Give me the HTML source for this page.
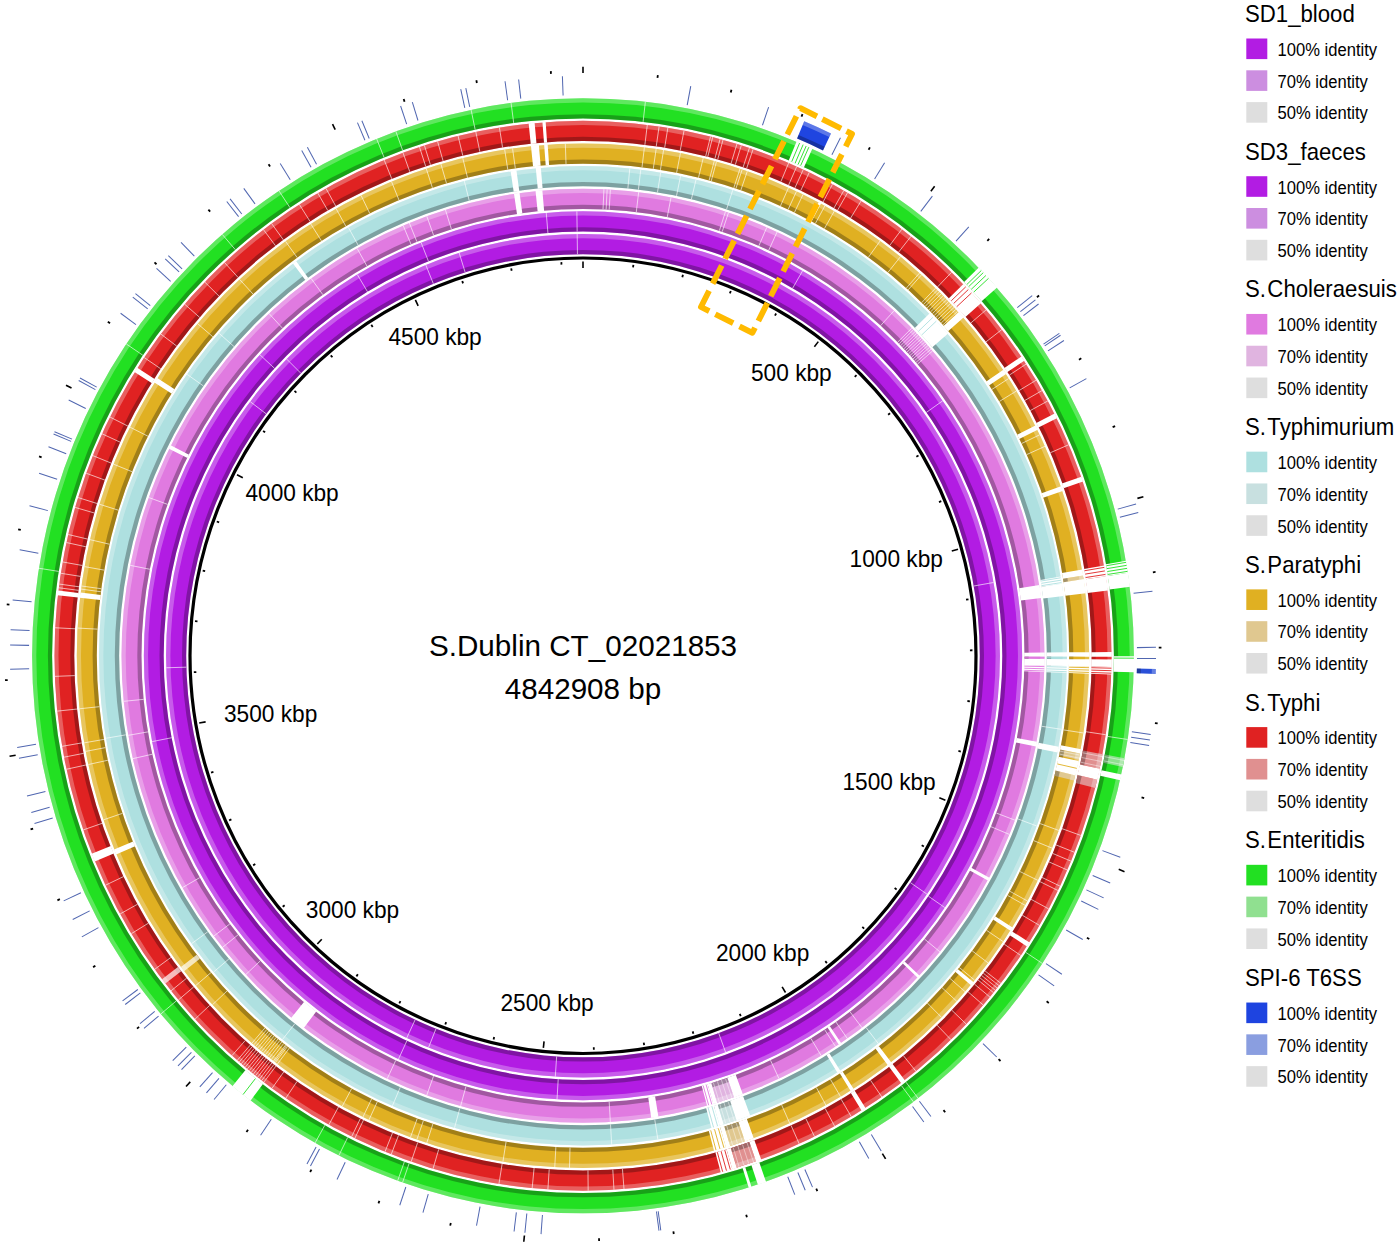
<!DOCTYPE html>
<html><head><meta charset="utf-8"><style>html,body{margin:0;padding:0;background:#fff;}svg{display:block;}text{font-family:"Liberation Sans",sans-serif;}</style></head><body>
<svg width="1400" height="1249" viewBox="0 0 1400 1249">
<rect width="1400" height="1249" fill="#fff"/>
<g transform="translate(583.0,655.75) scale(1,1.0121)">
<path d="M0,-416.8A416.8,416.8 0 1 1 0,416.8A416.8,416.8 0 1 1 0,-416.8ZM0,-396.8A396.8,396.8 0 1 0 0,396.8A396.8,396.8 0 1 0 0,-396.8Z" fill="#b21ce3"/>
<path d="M0,-416.8A416.8,416.8 0 1 1 0,416.8A416.8,416.8 0 1 1 0,-416.8ZM0,-412.6A412.6,412.6 0 1 0 0,412.6A412.6,412.6 0 1 0 0,-412.6Z" fill="#fff" fill-opacity="0.28"/>
<path d="M0,-401A401,401 0 1 1 0,401A401,401 0 1 1 0,-401ZM0,-396.8A396.8,396.8 0 1 0 0,396.8A396.8,396.8 0 1 0 0,-396.8Z" fill="#000" fill-opacity="0.28"/>
<line x1="390.77" y1="-68.9" x2="410.47" y2="-72.38" stroke="#fff" stroke-opacity="0.7" stroke-width="0.9"/>
<line x1="327.41" y1="224.18" x2="343.91" y2="235.48" stroke="#fff" stroke-opacity="0.7" stroke-width="0.9"/>
<line x1="135.71" y1="372.87" x2="142.55" y2="391.66" stroke="#fff" stroke-opacity="0.7" stroke-width="0.9"/>
<line x1="-26.37" y1="395.92" x2="-27.7" y2="415.88" stroke="#fff" stroke-opacity="0.7" stroke-width="0.9"/>
<line x1="-147.04" y1="368.55" x2="-154.45" y2="387.13" stroke="#fff" stroke-opacity="0.7" stroke-width="0.9"/>
<line x1="-167.82" y1="359.56" x2="-176.28" y2="377.69" stroke="#fff" stroke-opacity="0.7" stroke-width="0.9"/>
<line x1="-396.64" y1="11.29" x2="-416.63" y2="11.86" stroke="#fff" stroke-opacity="0.7" stroke-width="0.9"/>
<line x1="-316.77" y1="-238.97" x2="-332.74" y2="-251.01" stroke="#fff" stroke-opacity="0.7" stroke-width="0.9"/>
<line x1="-282.09" y1="-279.06" x2="-296.31" y2="-293.12" stroke="#fff" stroke-opacity="0.7" stroke-width="0.9"/>
<line x1="-149.61" y1="-367.52" x2="-157.15" y2="-386.04" stroke="#fff" stroke-opacity="0.7" stroke-width="0.9"/>
<line x1="-117.87" y1="-378.89" x2="-123.81" y2="-397.99" stroke="#fff" stroke-opacity="0.7" stroke-width="0.9"/>
<line x1="-5.54" y1="-396.76" x2="-5.82" y2="-416.76" stroke="#fff" stroke-opacity="0.7" stroke-width="0.9"/>
<path d="M0,-439.15A439.15,439.15 0 1 1 0,439.15A439.15,439.15 0 1 1 0,-439.15ZM0,-419.15A419.15,419.15 0 1 0 0,419.15A419.15,419.15 0 1 0 0,-419.15Z" fill="#b21ce3"/>
<path d="M0,-439.15A439.15,439.15 0 1 1 0,439.15A439.15,439.15 0 1 1 0,-439.15ZM0,-434.95A434.95,434.95 0 1 0 0,434.95A434.95,434.95 0 1 0 0,-434.95Z" fill="#fff" fill-opacity="0.28"/>
<path d="M0,-423.35A423.35,423.35 0 1 1 0,423.35A423.35,423.35 0 1 1 0,-423.35ZM0,-419.15A419.15,419.15 0 1 0 0,419.15A419.15,419.15 0 1 0 0,-419.15Z" fill="#000" fill-opacity="0.28"/>
<line x1="209.57" y1="-362.99" x2="219.57" y2="-380.32" stroke="#fff" stroke-opacity="0.7" stroke-width="0.9"/>
<line x1="343.35" y1="-240.41" x2="359.73" y2="-251.89" stroke="#fff" stroke-opacity="0.7" stroke-width="0.9"/>
<line x1="345.35" y1="237.53" x2="361.83" y2="248.86" stroke="#fff" stroke-opacity="0.7" stroke-width="0.9"/>
<line x1="-24.79" y1="418.42" x2="-25.97" y2="438.38" stroke="#fff" stroke-opacity="0.7" stroke-width="0.9"/>
<line x1="-176.08" y1="380.37" x2="-184.48" y2="398.52" stroke="#fff" stroke-opacity="0.7" stroke-width="0.9"/>
<line x1="-411.25" y1="80.98" x2="-430.88" y2="84.85" stroke="#fff" stroke-opacity="0.7" stroke-width="0.9"/>
<line x1="-308.39" y1="-283.87" x2="-323.1" y2="-297.42" stroke="#fff" stroke-opacity="0.7" stroke-width="0.9"/>
<line x1="-215.44" y1="-359.55" x2="-225.72" y2="-376.7" stroke="#fff" stroke-opacity="0.7" stroke-width="0.9"/>
<line x1="-154.5" y1="-389.63" x2="-161.88" y2="-408.23" stroke="#fff" stroke-opacity="0.7" stroke-width="0.9"/>
<line x1="-35.07" y1="-417.68" x2="-36.75" y2="-437.61" stroke="#fff" stroke-opacity="0.7" stroke-width="0.9"/>
<line x1="-5.85" y1="-419.11" x2="-6.13" y2="-439.11" stroke="#fff" stroke-opacity="0.7" stroke-width="0.9"/>
<path d="M0,-461.5A461.5,461.5 0 1 1 0,461.5A461.5,461.5 0 1 1 0,-461.5ZM0,-441.5A441.5,441.5 0 1 0 0,441.5A441.5,441.5 0 1 0 0,-441.5Z" fill="#e07ae0"/>
<path d="M0,-461.5A461.5,461.5 0 1 1 0,461.5A461.5,461.5 0 1 1 0,-461.5ZM0,-457.3A457.3,457.3 0 1 0 0,457.3A457.3,457.3 0 1 0 0,-457.3Z" fill="#fff" fill-opacity="0.28"/>
<path d="M0,-445.7A445.7,445.7 0 1 1 0,445.7A445.7,445.7 0 1 1 0,-445.7ZM0,-441.5A441.5,441.5 0 1 0 0,441.5A441.5,441.5 0 1 0 0,-441.5Z" fill="#000" fill-opacity="0.28"/>
<path d="M151.01,436.09A461.5,461.5 0 0 1 134.16,441.57L128.35,422.43A441.5,441.5 0 0 0 144.47,417.19Z" fill="#e0b4e0"/>
<path d="M151.01,436.09A461.5,461.5 0 0 1 134.16,441.57L132.94,437.55A457.3,457.3 0 0 0 149.64,432.13Z" fill="#fff" fill-opacity="0.28"/>
<path d="M145.84,421.16A445.7,445.7 0 0 1 129.57,426.45L128.35,422.43A441.5,441.5 0 0 0 144.47,417.19Z" fill="#000" fill-opacity="0.28"/>
<line x1="142.46" y1="417.88" x2="148.92" y2="436.81" stroke="#fff" stroke-opacity="0.55" stroke-width="0.8"/>
<line x1="138.44" y1="419.23" x2="144.72" y2="438.22" stroke="#fff" stroke-opacity="0.55" stroke-width="0.8"/>
<line x1="134.41" y1="420.54" x2="140.5" y2="439.59" stroke="#fff" stroke-opacity="0.55" stroke-width="0.8"/>
<line x1="130.37" y1="421.81" x2="136.28" y2="440.92" stroke="#fff" stroke-opacity="0.55" stroke-width="0.8"/>
<line x1="314.61" y1="-309.75" x2="328.86" y2="-323.78" stroke="#fff" stroke-opacity="0.7" stroke-width="0.9"/>
<line x1="316.19" y1="-308.13" x2="330.51" y2="-322.09" stroke="#fff" stroke-opacity="0.7" stroke-width="0.9"/>
<line x1="317.76" y1="-306.51" x2="332.16" y2="-320.4" stroke="#fff" stroke-opacity="0.7" stroke-width="0.9"/>
<line x1="319.32" y1="-304.89" x2="333.79" y2="-318.7" stroke="#fff" stroke-opacity="0.7" stroke-width="0.9"/>
<line x1="320.88" y1="-303.25" x2="335.41" y2="-316.99" stroke="#fff" stroke-opacity="0.7" stroke-width="0.9"/>
<line x1="322.42" y1="-301.61" x2="337.03" y2="-315.27" stroke="#fff" stroke-opacity="0.7" stroke-width="0.9"/>
<line x1="323.96" y1="-299.95" x2="338.64" y2="-313.54" stroke="#fff" stroke-opacity="0.7" stroke-width="0.9"/>
<line x1="325.49" y1="-298.29" x2="340.23" y2="-311.81" stroke="#fff" stroke-opacity="0.7" stroke-width="0.9"/>
<line x1="327.01" y1="-296.63" x2="341.82" y2="-310.06" stroke="#fff" stroke-opacity="0.7" stroke-width="0.9"/>
<line x1="328.52" y1="-294.95" x2="343.4" y2="-308.31" stroke="#fff" stroke-opacity="0.7" stroke-width="0.9"/>
<line x1="330.02" y1="-293.27" x2="344.98" y2="-306.55" stroke="#fff" stroke-opacity="0.7" stroke-width="0.9"/>
<line x1="331.52" y1="-291.58" x2="346.54" y2="-304.79" stroke="#fff" stroke-opacity="0.7" stroke-width="0.9"/>
<line x1="333.01" y1="-289.88" x2="348.09" y2="-303.01" stroke="#fff" stroke-opacity="0.7" stroke-width="0.9"/>
<line x1="334.48" y1="-288.17" x2="349.64" y2="-301.23" stroke="#fff" stroke-opacity="0.7" stroke-width="0.9"/>
<path d="M456.49,-69.85A461.8,461.8 0 0 1 458.26,-57.08L437.82,-54.53A441.2,441.2 0 0 0 436.12,-66.74Z" fill="#fff"/>
<path d="M461.79,-3.22A461.8,461.8 0 0 1 461.8,0.81L441.2,0.77A441.2,441.2 0 0 0 441.19,-3.08Z" fill="#fff"/>
<path d="M461.79,3.22A461.8,461.8 0 0 1 461.7,9.67L441.1,9.24A441.2,441.2 0 0 0 441.19,3.08Z" fill="#fff"/>
<path d="M461.7,9.67A461.8,461.8 0 0 1 461.52,16.12L440.93,15.4A441.2,441.2 0 0 0 441.1,9.24Z" fill="#fff"/>
<path d="M453.92,84.95A461.8,461.8 0 0 1 453.01,89.7L432.8,85.7A441.2,441.2 0 0 0 433.67,81.16Z" fill="#fff"/>
<path d="M159.84,433.26A461.8,461.8 0 0 1 151.11,436.38L144.37,416.91A441.2,441.2 0 0 0 152.71,413.93Z" fill="#fff"/>
<path d="M134.25,441.86A461.8,461.8 0 0 1 130.39,443.01L124.57,423.25A441.2,441.2 0 0 0 128.26,422.15Z" fill="#fff"/>
<path d="M130.39,443.01A461.8,461.8 0 0 1 124.19,444.79L118.65,424.95A441.2,441.2 0 0 0 124.57,423.25Z" fill="#fff"/>
<path d="M75.42,455.6A461.8,461.8 0 0 1 68.26,456.73L65.21,436.35A441.2,441.2 0 0 0 72.06,435.28Z" fill="#fff"/>
<path d="M-279.2,367.84A461.8,461.8 0 0 1 -291.87,357.87L-278.85,341.91A441.2,441.2 0 0 0 -266.75,351.43Z" fill="#fff"/>
<path d="M-414,-204.61A461.8,461.8 0 0 1 -412.38,-207.86L-393.98,-198.58A441.2,441.2 0 0 0 -395.53,-195.48Z" fill="#fff"/>
<path d="M-69.06,-456.61A461.8,461.8 0 0 1 -63.47,-457.42L-60.64,-437.01A441.2,441.2 0 0 0 -65.97,-436.24Z" fill="#fff"/>
<path d="M-47.47,-459.35A461.8,461.8 0 0 1 -40.65,-460.01L-38.84,-439.49A441.2,441.2 0 0 0 -45.35,-438.86Z" fill="#fff"/>
<path d="M406.41,219.29A461.8,461.8 0 0 1 404.87,222.12L386.81,212.21A441.2,441.2 0 0 0 388.28,209.51Z" fill="#fff"/>
<path d="M336.64,316.12A461.8,461.8 0 0 1 334.7,318.17L319.77,303.98A441.2,441.2 0 0 0 321.62,302.02Z" fill="#fff"/>
<path d="M258.24,382.85A461.8,461.8 0 0 1 255.89,384.42L244.48,367.27A441.2,441.2 0 0 0 246.72,365.77Z" fill="#fff"/>
<line x1="20.03" y1="-441.05" x2="20.94" y2="-461.02" stroke="#fff" stroke-opacity="0.7" stroke-width="0.9"/>
<line x1="23.11" y1="-440.89" x2="24.15" y2="-460.87" stroke="#fff" stroke-opacity="0.7" stroke-width="0.9"/>
<line x1="26.18" y1="-440.72" x2="27.37" y2="-460.69" stroke="#fff" stroke-opacity="0.7" stroke-width="0.9"/>
<line x1="53.27" y1="-438.27" x2="55.68" y2="-458.13" stroke="#fff" stroke-opacity="0.7" stroke-width="0.9"/>
<line x1="84.24" y1="-433.39" x2="88.06" y2="-453.02" stroke="#fff" stroke-opacity="0.7" stroke-width="0.9"/>
<line x1="136.36" y1="-419.92" x2="142.53" y2="-438.94" stroke="#fff" stroke-opacity="0.7" stroke-width="0.9"/>
<line x1="139.21" y1="-418.98" x2="145.52" y2="-437.96" stroke="#fff" stroke-opacity="0.7" stroke-width="0.9"/>
<line x1="175.84" y1="-404.97" x2="183.8" y2="-423.32" stroke="#fff" stroke-opacity="0.7" stroke-width="0.9"/>
<line x1="185.68" y1="-400.56" x2="194.09" y2="-418.7" stroke="#fff" stroke-opacity="0.7" stroke-width="0.9"/>
<line x1="297.59" y1="-326.13" x2="311.07" y2="-340.91" stroke="#fff" stroke-opacity="0.7" stroke-width="0.9"/>
<line x1="413.24" y1="155.41" x2="431.96" y2="162.45" stroke="#fff" stroke-opacity="0.7" stroke-width="0.9"/>
<line x1="407.92" y1="168.88" x2="426.4" y2="176.53" stroke="#fff" stroke-opacity="0.7" stroke-width="0.9"/>
<line x1="388" y1="210.67" x2="405.57" y2="220.21" stroke="#fff" stroke-opacity="0.7" stroke-width="0.9"/>
<line x1="341.46" y1="279.88" x2="356.92" y2="292.55" stroke="#fff" stroke-opacity="0.7" stroke-width="0.9"/>
<line x1="320.78" y1="303.35" x2="335.31" y2="317.09" stroke="#fff" stroke-opacity="0.7" stroke-width="0.9"/>
<line x1="266.93" y1="351.67" x2="279.02" y2="367.6" stroke="#fff" stroke-opacity="0.7" stroke-width="0.9"/>
<line x1="252.92" y1="361.88" x2="264.38" y2="378.27" stroke="#fff" stroke-opacity="0.7" stroke-width="0.9"/>
<line x1="241.68" y1="369.47" x2="252.63" y2="386.21" stroke="#fff" stroke-opacity="0.7" stroke-width="0.9"/>
<line x1="227.92" y1="378.12" x2="238.24" y2="395.25" stroke="#fff" stroke-opacity="0.7" stroke-width="0.9"/>
<line x1="187.49" y1="399.71" x2="195.99" y2="417.82" stroke="#fff" stroke-opacity="0.7" stroke-width="0.9"/>
<line x1="26.18" y1="440.72" x2="27.37" y2="460.69" stroke="#fff" stroke-opacity="0.7" stroke-width="0.9"/>
<line x1="-117.09" y1="425.69" x2="-122.4" y2="444.97" stroke="#fff" stroke-opacity="0.7" stroke-width="0.9"/>
<line x1="-149.48" y1="415.42" x2="-156.25" y2="434.24" stroke="#fff" stroke-opacity="0.7" stroke-width="0.9"/>
<line x1="-187.28" y1="399.81" x2="-195.77" y2="417.92" stroke="#fff" stroke-opacity="0.7" stroke-width="0.9"/>
<line x1="-322.63" y1="301.38" x2="-337.24" y2="315.04" stroke="#fff" stroke-opacity="0.7" stroke-width="0.9"/>
<line x1="-344.85" y1="275.68" x2="-360.47" y2="288.17" stroke="#fff" stroke-opacity="0.7" stroke-width="0.9"/>
<line x1="-353.15" y1="264.96" x2="-369.15" y2="276.97" stroke="#fff" stroke-opacity="0.7" stroke-width="0.9"/>
<line x1="-383.23" y1="219.21" x2="-400.59" y2="229.14" stroke="#fff" stroke-opacity="0.7" stroke-width="0.9"/>
<line x1="-430.65" y1="97.29" x2="-450.16" y2="101.69" stroke="#fff" stroke-opacity="0.7" stroke-width="0.9"/>
<line x1="-435.04" y1="75.22" x2="-454.75" y2="78.63" stroke="#fff" stroke-opacity="0.7" stroke-width="0.9"/>
<line x1="-439.39" y1="43.08" x2="-459.3" y2="45.03" stroke="#fff" stroke-opacity="0.7" stroke-width="0.9"/>
<line x1="-433.15" y1="-85.45" x2="-452.77" y2="-89.32" stroke="#fff" stroke-opacity="0.7" stroke-width="0.9"/>
<line x1="-415.4" y1="-149.55" x2="-434.22" y2="-156.33" stroke="#fff" stroke-opacity="0.7" stroke-width="0.9"/>
<line x1="-300.43" y1="-323.52" x2="-314.03" y2="-338.18" stroke="#fff" stroke-opacity="0.7" stroke-width="0.9"/>
<line x1="-260.13" y1="-356.73" x2="-271.91" y2="-372.89" stroke="#fff" stroke-opacity="0.7" stroke-width="0.9"/>
<line x1="-216.06" y1="-385.02" x2="-225.85" y2="-402.46" stroke="#fff" stroke-opacity="0.7" stroke-width="0.9"/>
<line x1="-172.01" y1="-406.61" x2="-179.8" y2="-425.03" stroke="#fff" stroke-opacity="0.7" stroke-width="0.9"/>
<line x1="-166.1" y1="-409.06" x2="-173.63" y2="-427.59" stroke="#fff" stroke-opacity="0.7" stroke-width="0.9"/>
<line x1="-149.41" y1="-415.45" x2="-156.18" y2="-434.27" stroke="#fff" stroke-opacity="0.7" stroke-width="0.9"/>
<line x1="-131.59" y1="-421.44" x2="-137.55" y2="-440.53" stroke="#fff" stroke-opacity="0.7" stroke-width="0.9"/>
<path d="M0,-483.85A483.85,483.85 0 1 1 0,483.85A483.85,483.85 0 1 1 0,-483.85ZM0,-463.85A463.85,463.85 0 1 0 0,463.85A463.85,463.85 0 1 0 0,-463.85Z" fill="#aee0e0"/>
<path d="M0,-483.85A483.85,483.85 0 1 1 0,483.85A483.85,483.85 0 1 1 0,-483.85ZM0,-479.65A479.65,479.65 0 1 0 0,479.65A479.65,479.65 0 1 0 0,-479.65Z" fill="#fff" fill-opacity="0.28"/>
<path d="M0,-468.05A468.05,468.05 0 1 1 0,468.05A468.05,468.05 0 1 1 0,-468.05ZM0,-463.85A463.85,463.85 0 1 0 0,463.85A463.85,463.85 0 1 0 0,-463.85Z" fill="#000" fill-opacity="0.28"/>
<path d="M153.53,458.85A483.85,483.85 0 0 1 140.66,462.95L134.84,443.82A463.85,463.85 0 0 0 147.18,439.88Z" fill="#c8e0e0"/>
<path d="M153.53,458.85A483.85,483.85 0 0 1 140.66,462.95L139.44,458.94A479.65,479.65 0 0 0 152.2,454.86Z" fill="#fff" fill-opacity="0.28"/>
<path d="M148.51,443.86A468.05,468.05 0 0 1 136.06,447.84L134.84,443.82A463.85,463.85 0 0 0 147.18,439.88Z" fill="#000" fill-opacity="0.28"/>
<line x1="145.13" y1="440.56" x2="151.39" y2="459.56" stroke="#fff" stroke-opacity="0.55" stroke-width="0.8"/>
<line x1="141.03" y1="441.89" x2="147.11" y2="460.95" stroke="#fff" stroke-opacity="0.55" stroke-width="0.8"/>
<line x1="136.91" y1="443.19" x2="142.81" y2="462.29" stroke="#fff" stroke-opacity="0.55" stroke-width="0.8"/>
<path d="M346.5,-338.14A484.15,484.15 0 0 1 364.84,-318.27L349.31,-304.73A463.55,463.55 0 0 0 331.76,-323.75Z" fill="#fff"/>
<path d="M477.79,-78.24A484.15,484.15 0 0 1 478.89,-71.14L458.52,-68.12A463.55,463.55 0 0 0 457.46,-74.91Z" fill="#fff"/>
<path d="M478.89,-71.14A484.15,484.15 0 0 1 480.54,-59L460.09,-56.49A463.55,463.55 0 0 0 458.52,-68.12Z" fill="#fff"/>
<path d="M484.14,-3.38A484.15,484.15 0 0 1 484.15,0.85L463.55,0.81A463.55,463.55 0 0 0 463.54,-3.24Z" fill="#fff"/>
<path d="M484.14,3.38A484.15,484.15 0 0 1 484.04,10.14L463.45,9.71A463.55,463.55 0 0 0 463.54,3.24Z" fill="#fff"/>
<path d="M484.04,10.14A484.15,484.15 0 0 1 483.86,16.9L463.27,16.18A463.55,463.55 0 0 0 463.45,9.71Z" fill="#fff"/>
<path d="M475.73,89.89A484.15,484.15 0 0 1 474.6,95.7L454.4,91.62A463.55,463.55 0 0 0 455.49,86.07Z" fill="#fff"/>
<path d="M257.28,410.13A484.15,484.15 0 0 1 254.41,411.92L243.58,394.39A463.55,463.55 0 0 0 246.33,392.68Z" fill="#fff"/>
<path d="M167.18,454.37A484.15,484.15 0 0 1 153.62,459.13L147.09,439.6A463.55,463.55 0 0 0 160.06,435.04Z" fill="#fff"/>
<path d="M140.74,463.24A484.15,484.15 0 0 1 136.7,464.45L130.88,444.69A463.55,463.55 0 0 0 134.76,443.53Z" fill="#fff"/>
<path d="M136.7,464.45A484.15,484.15 0 0 1 128.57,466.77L123.1,446.91A463.55,463.55 0 0 0 130.88,444.69Z" fill="#fff"/>
<path d="M-290.02,-387.67A484.15,484.15 0 0 1 -286.96,-389.94L-274.75,-373.35A463.55,463.55 0 0 0 -277.68,-371.18Z" fill="#fff"/>
<path d="M-72.4,-478.71A484.15,484.15 0 0 1 -66.54,-479.56L-63.71,-459.15A463.55,463.55 0 0 0 -69.32,-458.34Z" fill="#fff"/>
<path d="M-47.24,-481.84A484.15,484.15 0 0 1 -42.2,-482.31L-40.4,-461.79A463.55,463.55 0 0 0 -45.23,-461.34Z" fill="#fff"/>
<line x1="44.86" y1="-461.68" x2="46.8" y2="-481.58" stroke="#fff" stroke-opacity="0.7" stroke-width="0.9"/>
<line x1="55.4" y1="-460.53" x2="57.79" y2="-480.39" stroke="#fff" stroke-opacity="0.7" stroke-width="0.9"/>
<line x1="74.48" y1="-457.83" x2="77.69" y2="-477.57" stroke="#fff" stroke-opacity="0.7" stroke-width="0.9"/>
<line x1="93.51" y1="-454.33" x2="97.54" y2="-473.92" stroke="#fff" stroke-opacity="0.7" stroke-width="0.9"/>
<line x1="108.36" y1="-451.01" x2="113.03" y2="-470.46" stroke="#fff" stroke-opacity="0.7" stroke-width="0.9"/>
<line x1="143.57" y1="-441.07" x2="149.76" y2="-460.09" stroke="#fff" stroke-opacity="0.7" stroke-width="0.9"/>
<line x1="458.59" y1="69.68" x2="478.36" y2="72.69" stroke="#fff" stroke-opacity="0.7" stroke-width="0.9"/>
<line x1="434.93" y1="161.23" x2="453.68" y2="168.18" stroke="#fff" stroke-opacity="0.7" stroke-width="0.9"/>
<line x1="283.14" y1="367.4" x2="295.35" y2="383.25" stroke="#fff" stroke-opacity="0.7" stroke-width="0.9"/>
<line x1="71.76" y1="458.27" x2="74.86" y2="478.02" stroke="#fff" stroke-opacity="0.7" stroke-width="0.9"/>
<line x1="27.51" y1="463.03" x2="28.7" y2="483" stroke="#fff" stroke-opacity="0.7" stroke-width="0.9"/>
<line x1="-123.18" y1="447.2" x2="-128.49" y2="466.48" stroke="#fff" stroke-opacity="0.7" stroke-width="0.9"/>
<line x1="-182.73" y1="426.34" x2="-190.61" y2="444.72" stroke="#fff" stroke-opacity="0.7" stroke-width="0.9"/>
<line x1="-288.12" y1="363.52" x2="-300.54" y2="379.19" stroke="#fff" stroke-opacity="0.7" stroke-width="0.9"/>
<line x1="-354.13" y1="299.58" x2="-369.4" y2="312.5" stroke="#fff" stroke-opacity="0.7" stroke-width="0.9"/>
<line x1="-375.21" y1="272.71" x2="-391.39" y2="284.47" stroke="#fff" stroke-opacity="0.7" stroke-width="0.9"/>
<line x1="-457.22" y1="78.15" x2="-476.93" y2="81.52" stroke="#fff" stroke-opacity="0.7" stroke-width="0.9"/>
<line x1="-379.59" y1="-266.58" x2="-395.96" y2="-278.08" stroke="#fff" stroke-opacity="0.7" stroke-width="0.9"/>
<line x1="-349.01" y1="-305.53" x2="-364.06" y2="-318.71" stroke="#fff" stroke-opacity="0.7" stroke-width="0.9"/>
<line x1="-224.88" y1="-405.69" x2="-234.58" y2="-423.18" stroke="#fff" stroke-opacity="0.7" stroke-width="0.9"/>
<line x1="-113.79" y1="-449.68" x2="-118.69" y2="-469.07" stroke="#fff" stroke-opacity="0.7" stroke-width="0.9"/>
<path d="M0,-506.2A506.2,506.2 0 1 1 0,506.2A506.2,506.2 0 1 1 0,-506.2ZM0,-486.2A486.2,486.2 0 1 0 0,486.2A486.2,486.2 0 1 0 0,-486.2Z" fill="#e0b022"/>
<path d="M0,-506.2A506.2,506.2 0 1 1 0,506.2A506.2,506.2 0 1 1 0,-506.2ZM0,-502A502,502 0 1 0 0,502A502,502 0 1 0 0,-502Z" fill="#fff" fill-opacity="0.28"/>
<path d="M0,-490.4A490.4,490.4 0 1 1 0,490.4A490.4,490.4 0 1 1 0,-490.4ZM0,-486.2A486.2,486.2 0 1 0 0,486.2A486.2,486.2 0 1 0 0,-486.2Z" fill="#000" fill-opacity="0.28"/>
<path d="M499.97,-79.19A506.2,506.2 0 0 1 500.51,-75.69L480.73,-72.7A486.2,486.2 0 0 0 480.21,-76.06Z" fill="#e0c890"/>
<path d="M499.97,-79.19A506.2,506.2 0 0 1 500.51,-75.69L496.36,-75.07A502,502 0 0 0 495.82,-78.53Z" fill="#fff" fill-opacity="0.28"/>
<path d="M484.36,-76.72A490.4,490.4 0 0 1 484.89,-73.33L480.73,-72.7A486.2,486.2 0 0 0 480.21,-76.06Z" fill="#000" fill-opacity="0.28"/>
<path d="M492.21,118.17A506.2,506.2 0 0 1 490.95,123.32L471.55,118.45A486.2,486.2 0 0 0 472.77,113.5Z" fill="#e0c890"/>
<path d="M492.21,118.17A506.2,506.2 0 0 1 490.95,123.32L486.88,122.29A502,502 0 0 0 488.13,117.19Z" fill="#fff" fill-opacity="0.28"/>
<path d="M476.85,114.48A490.4,490.4 0 0 1 475.63,119.47L471.55,118.45A486.2,486.2 0 0 0 472.77,113.5Z" fill="#000" fill-opacity="0.28"/>
<path d="M496.9,96.59A506.2,506.2 0 0 1 495.68,102.65L476.1,98.6A486.2,486.2 0 0 0 477.27,92.77Z" fill="#e0c890"/>
<path d="M496.9,96.59A506.2,506.2 0 0 1 495.68,102.65L491.57,101.8A502,502 0 0 0 492.78,95.79Z" fill="#fff" fill-opacity="0.28"/>
<path d="M481.39,93.57A490.4,490.4 0 0 1 480.21,99.45L476.1,98.6A486.2,486.2 0 0 0 477.27,92.77Z" fill="#000" fill-opacity="0.28"/>
<line x1="476.98" y1="94.23" x2="496.6" y2="98.1" stroke="#fff" stroke-opacity="0.55" stroke-width="0.8"/>
<line x1="476.4" y1="97.14" x2="495.99" y2="101.14" stroke="#fff" stroke-opacity="0.55" stroke-width="0.8"/>
<path d="M161.88,479.62A506.2,506.2 0 0 1 147.15,484.34L141.34,465.2A486.2,486.2 0 0 0 155.48,460.67Z" fill="#e0c890"/>
<path d="M161.88,479.62A506.2,506.2 0 0 1 147.15,484.34L145.93,480.32A502,502 0 0 0 160.53,475.64Z" fill="#fff" fill-opacity="0.28"/>
<path d="M156.82,464.65A490.4,490.4 0 0 1 142.56,469.22L141.34,465.2A486.2,486.2 0 0 0 155.48,460.67Z" fill="#000" fill-opacity="0.28"/>
<line x1="153.13" y1="461.46" x2="159.43" y2="480.44" stroke="#fff" stroke-opacity="0.55" stroke-width="0.8"/>
<line x1="148.43" y1="462.99" x2="154.53" y2="482.04" stroke="#fff" stroke-opacity="0.55" stroke-width="0.8"/>
<line x1="143.71" y1="464.48" x2="149.62" y2="483.58" stroke="#fff" stroke-opacity="0.55" stroke-width="0.8"/>
<line x1="338.66" y1="-348.86" x2="352.59" y2="-363.21" stroke="#fff" stroke-opacity="0.7" stroke-width="0.9"/>
<line x1="340.48" y1="-347.08" x2="354.49" y2="-361.36" stroke="#fff" stroke-opacity="0.7" stroke-width="0.9"/>
<line x1="342.29" y1="-345.29" x2="356.37" y2="-359.5" stroke="#fff" stroke-opacity="0.7" stroke-width="0.9"/>
<line x1="344.1" y1="-343.5" x2="358.25" y2="-357.62" stroke="#fff" stroke-opacity="0.7" stroke-width="0.9"/>
<line x1="345.89" y1="-341.69" x2="360.12" y2="-355.74" stroke="#fff" stroke-opacity="0.7" stroke-width="0.9"/>
<line x1="347.67" y1="-339.87" x2="361.98" y2="-353.85" stroke="#fff" stroke-opacity="0.7" stroke-width="0.9"/>
<line x1="349.45" y1="-338.05" x2="363.82" y2="-351.95" stroke="#fff" stroke-opacity="0.7" stroke-width="0.9"/>
<line x1="351.21" y1="-336.21" x2="365.66" y2="-350.04" stroke="#fff" stroke-opacity="0.7" stroke-width="0.9"/>
<line x1="352.97" y1="-334.37" x2="367.49" y2="-348.12" stroke="#fff" stroke-opacity="0.7" stroke-width="0.9"/>
<line x1="354.71" y1="-332.52" x2="369.31" y2="-346.2" stroke="#fff" stroke-opacity="0.7" stroke-width="0.9"/>
<line x1="356.45" y1="-330.66" x2="371.11" y2="-344.26" stroke="#fff" stroke-opacity="0.7" stroke-width="0.9"/>
<line x1="358.18" y1="-328.78" x2="372.91" y2="-342.31" stroke="#fff" stroke-opacity="0.7" stroke-width="0.9"/>
<line x1="359.89" y1="-326.9" x2="374.7" y2="-340.35" stroke="#fff" stroke-opacity="0.7" stroke-width="0.9"/>
<line x1="-293.57" y1="387.57" x2="-305.65" y2="403.51" stroke="#fff" stroke-opacity="0.7" stroke-width="0.9"/>
<line x1="-295.5" y1="386.1" x2="-307.65" y2="401.98" stroke="#fff" stroke-opacity="0.7" stroke-width="0.9"/>
<line x1="-297.42" y1="384.62" x2="-309.65" y2="400.44" stroke="#fff" stroke-opacity="0.7" stroke-width="0.9"/>
<line x1="-299.33" y1="383.13" x2="-311.65" y2="398.89" stroke="#fff" stroke-opacity="0.7" stroke-width="0.9"/>
<line x1="-301.24" y1="381.63" x2="-313.63" y2="397.33" stroke="#fff" stroke-opacity="0.7" stroke-width="0.9"/>
<line x1="-303.14" y1="380.13" x2="-315.61" y2="395.76" stroke="#fff" stroke-opacity="0.7" stroke-width="0.9"/>
<line x1="-305.03" y1="378.61" x2="-317.58" y2="394.18" stroke="#fff" stroke-opacity="0.7" stroke-width="0.9"/>
<line x1="-306.92" y1="377.08" x2="-319.54" y2="392.6" stroke="#fff" stroke-opacity="0.7" stroke-width="0.9"/>
<line x1="-308.79" y1="375.55" x2="-321.5" y2="391" stroke="#fff" stroke-opacity="0.7" stroke-width="0.9"/>
<line x1="-310.66" y1="374" x2="-323.44" y2="389.39" stroke="#fff" stroke-opacity="0.7" stroke-width="0.9"/>
<line x1="-312.52" y1="372.45" x2="-325.38" y2="387.77" stroke="#fff" stroke-opacity="0.7" stroke-width="0.9"/>
<line x1="-314.38" y1="370.89" x2="-327.31" y2="386.14" stroke="#fff" stroke-opacity="0.7" stroke-width="0.9"/>
<line x1="-316.22" y1="369.32" x2="-329.23" y2="384.51" stroke="#fff" stroke-opacity="0.7" stroke-width="0.9"/>
<line x1="-318.06" y1="367.73" x2="-331.14" y2="382.86" stroke="#fff" stroke-opacity="0.7" stroke-width="0.9"/>
<line x1="-482.07" y1="-63.25" x2="-501.9" y2="-65.85" stroke="#fff" stroke-opacity="0.7" stroke-width="0.9"/>
<line x1="-481.67" y1="-66.2" x2="-501.49" y2="-68.92" stroke="#fff" stroke-opacity="0.7" stroke-width="0.9"/>
<path d="M-398.89,311.65A506.2,506.2 0 0 1 -402.13,307.45L-386.24,295.31A486.2,486.2 0 0 0 -383.13,299.33Z" fill="#fff" fill-opacity="0.7"/>
<path d="M375.81,-339.57A506.5,506.5 0 0 1 380.52,-334.29L365.04,-320.69A485.9,485.9 0 0 0 360.53,-325.76Z" fill="#fff"/>
<path d="M420.4,-282.5A506.5,506.5 0 0 1 423.09,-278.45L405.89,-267.12A485.9,485.9 0 0 0 403.3,-271.01Z" fill="#fff"/>
<path d="M452.49,-227.58A506.5,506.5 0 0 1 454.66,-223.23L436.16,-214.15A485.9,485.9 0 0 0 434.09,-218.32Z" fill="#fff"/>
<path d="M478.04,-167.41A506.5,506.5 0 0 1 479.62,-162.81L460.11,-156.19A485.9,485.9 0 0 0 458.59,-160.6Z" fill="#fff"/>
<path d="M499.26,-85.34A506.5,506.5 0 0 1 500.26,-79.23L479.92,-76.01A485.9,485.9 0 0 0 478.95,-81.87Z" fill="#fff"/>
<path d="M500.81,-75.74A506.5,506.5 0 0 1 502.72,-61.73L482.28,-59.22A485.9,485.9 0 0 0 480.44,-72.66Z" fill="#fff"/>
<path d="M506.49,-3.54A506.5,506.5 0 0 1 506.5,0.88L485.9,0.85A485.9,485.9 0 0 0 485.89,-3.39Z" fill="#fff"/>
<path d="M506.49,3.54A506.5,506.5 0 0 1 506.39,10.61L485.79,10.18A485.9,485.9 0 0 0 485.89,3.39Z" fill="#fff"/>
<path d="M506.39,10.61A506.5,506.5 0 0 1 506.19,17.68L485.6,16.96A485.9,485.9 0 0 0 485.79,10.18Z" fill="#fff"/>
<path d="M498.02,92.3A506.5,506.5 0 0 1 497.19,96.64L476.97,92.71A485.9,485.9 0 0 0 477.76,88.55Z" fill="#fff"/>
<path d="M495.69,104.1A506.5,506.5 0 0 1 492.51,118.24L472.47,113.43A485.9,485.9 0 0 0 475.53,99.86Z" fill="#fff"/>
<path d="M429.54,268.4A506.5,506.5 0 0 1 427.42,271.77L410.03,260.72A485.9,485.9 0 0 0 412.07,257.49Z" fill="#fff"/>
<path d="M308.34,401.83A506.5,506.5 0 0 1 304.82,404.51L292.42,388.06A485.9,485.9 0 0 0 295.8,385.49Z" fill="#fff"/>
<path d="M270.65,428.13A506.5,506.5 0 0 1 267.65,430L256.77,412.52A485.9,485.9 0 0 0 259.64,410.71Z" fill="#fff"/>
<path d="M170.74,476.85A506.5,506.5 0 0 1 161.97,479.9L155.38,460.39A485.9,485.9 0 0 0 163.79,457.46Z" fill="#fff"/>
<path d="M147.24,484.63A506.5,506.5 0 0 1 143.01,485.89L137.19,466.13A485.9,485.9 0 0 0 141.25,464.92Z" fill="#fff"/>
<path d="M143.01,485.89A506.5,506.5 0 0 1 131.09,489.24L125.76,469.34A485.9,485.9 0 0 0 137.19,466.13Z" fill="#fff"/>
<path d="M-466.92,196.28A506.5,506.5 0 0 1 -468.95,191.38L-449.88,183.59A485.9,485.9 0 0 0 -447.93,188.29Z" fill="#fff"/>
<path d="M-503.24,-57.34A506.5,506.5 0 0 1 -502.62,-62.6L-482.17,-60.06A485.9,485.9 0 0 0 -482.78,-55.01Z" fill="#fff"/>
<path d="M-428.6,-269.9A506.5,506.5 0 0 1 -425.75,-274.38L-408.43,-263.22A485.9,485.9 0 0 0 -411.17,-258.92Z" fill="#fff"/>
<path d="M-52.06,-503.82A506.5,506.5 0 0 1 -44.14,-504.57L-42.35,-484.05A485.9,485.9 0 0 0 -49.95,-483.33Z" fill="#fff"/>
<path d="M-38.86,-505.01A506.5,506.5 0 0 1 -35.33,-505.27L-33.89,-484.72A485.9,485.9 0 0 0 -37.28,-484.47Z" fill="#fff"/>
<path d="M235.83,-448.25A506.5,506.5 0 0 1 238.18,-447.01L228.49,-428.83A485.9,485.9 0 0 0 226.24,-430.02Z" fill="#fff"/>
<path d="M390.55,322.51A506.5,506.5 0 0 1 388,325.57L372.22,312.33A485.9,485.9 0 0 0 374.66,309.4Z" fill="#fff"/>
<line x1="59" y1="-482.61" x2="61.43" y2="-502.46" stroke="#fff" stroke-opacity="0.7" stroke-width="0.9"/>
<line x1="70.27" y1="-481.1" x2="73.16" y2="-500.89" stroke="#fff" stroke-opacity="0.7" stroke-width="0.9"/>
<line x1="77.4" y1="-480" x2="80.58" y2="-499.74" stroke="#fff" stroke-opacity="0.7" stroke-width="0.9"/>
<line x1="93.6" y1="-477.1" x2="97.45" y2="-496.73" stroke="#fff" stroke-opacity="0.7" stroke-width="0.9"/>
<line x1="115.48" y1="-472.29" x2="120.23" y2="-491.71" stroke="#fff" stroke-opacity="0.7" stroke-width="0.9"/>
<line x1="126.08" y1="-469.57" x2="131.27" y2="-488.88" stroke="#fff" stroke-opacity="0.7" stroke-width="0.9"/>
<line x1="128.21" y1="-468.99" x2="133.49" y2="-488.28" stroke="#fff" stroke-opacity="0.7" stroke-width="0.9"/>
<line x1="150.81" y1="-462.22" x2="157.01" y2="-481.23" stroke="#fff" stroke-opacity="0.7" stroke-width="0.9"/>
<line x1="152.9" y1="-461.53" x2="159.19" y2="-480.52" stroke="#fff" stroke-opacity="0.7" stroke-width="0.9"/>
<line x1="157.81" y1="-459.88" x2="164.3" y2="-478.79" stroke="#fff" stroke-opacity="0.7" stroke-width="0.9"/>
<line x1="197.45" y1="-444.3" x2="205.57" y2="-462.58" stroke="#fff" stroke-opacity="0.7" stroke-width="0.9"/>
<line x1="205.09" y1="-440.83" x2="213.53" y2="-458.96" stroke="#fff" stroke-opacity="0.7" stroke-width="0.9"/>
<line x1="211.38" y1="-437.85" x2="220.08" y2="-455.86" stroke="#fff" stroke-opacity="0.7" stroke-width="0.9"/>
<line x1="232.37" y1="-427.08" x2="241.93" y2="-444.65" stroke="#fff" stroke-opacity="0.7" stroke-width="0.9"/>
<line x1="241.41" y1="-422.03" x2="251.34" y2="-439.39" stroke="#fff" stroke-opacity="0.7" stroke-width="0.9"/>
<line x1="285.37" y1="-393.64" x2="297.11" y2="-409.84" stroke="#fff" stroke-opacity="0.7" stroke-width="0.9"/>
<line x1="304.92" y1="-378.7" x2="317.46" y2="-394.28" stroke="#fff" stroke-opacity="0.7" stroke-width="0.9"/>
<line x1="323.24" y1="-363.18" x2="336.54" y2="-378.12" stroke="#fff" stroke-opacity="0.7" stroke-width="0.9"/>
<line x1="325.14" y1="-361.49" x2="338.52" y2="-376.36" stroke="#fff" stroke-opacity="0.7" stroke-width="0.9"/>
<line x1="408.87" y1="-263.09" x2="425.69" y2="-273.92" stroke="#fff" stroke-opacity="0.7" stroke-width="0.9"/>
<line x1="416.27" y1="-251.21" x2="433.4" y2="-261.54" stroke="#fff" stroke-opacity="0.7" stroke-width="0.9"/>
<line x1="438.65" y1="-209.7" x2="456.7" y2="-218.32" stroke="#fff" stroke-opacity="0.7" stroke-width="0.9"/>
<line x1="443.72" y1="-198.76" x2="461.97" y2="-206.94" stroke="#fff" stroke-opacity="0.7" stroke-width="0.9"/>
<line x1="480.64" y1="73.29" x2="500.42" y2="76.31" stroke="#fff" stroke-opacity="0.7" stroke-width="0.9"/>
<line x1="457.05" y1="165.81" x2="475.85" y2="172.63" stroke="#fff" stroke-opacity="0.7" stroke-width="0.9"/>
<line x1="450.61" y1="182.61" x2="469.14" y2="190.12" stroke="#fff" stroke-opacity="0.7" stroke-width="0.9"/>
<line x1="436.96" y1="213.21" x2="454.93" y2="221.98" stroke="#fff" stroke-opacity="0.7" stroke-width="0.9"/>
<line x1="426.88" y1="232.74" x2="444.43" y2="242.31" stroke="#fff" stroke-opacity="0.7" stroke-width="0.9"/>
<line x1="424.62" y1="236.83" x2="442.09" y2="246.57" stroke="#fff" stroke-opacity="0.7" stroke-width="0.9"/>
<line x1="403.5" y1="271.25" x2="420.1" y2="282.4" stroke="#fff" stroke-opacity="0.7" stroke-width="0.9"/>
<line x1="389.11" y1="291.52" x2="405.12" y2="303.51" stroke="#fff" stroke-opacity="0.7" stroke-width="0.9"/>
<line x1="376.24" y1="307.95" x2="391.72" y2="320.62" stroke="#fff" stroke-opacity="0.7" stroke-width="0.9"/>
<line x1="367.05" y1="318.85" x2="382.15" y2="331.96" stroke="#fff" stroke-opacity="0.7" stroke-width="0.9"/>
<line x1="358.98" y1="327.91" x2="373.75" y2="341.4" stroke="#fff" stroke-opacity="0.7" stroke-width="0.9"/>
<line x1="344.39" y1="343.19" x2="358.56" y2="357.31" stroke="#fff" stroke-opacity="0.7" stroke-width="0.9"/>
<line x1="247.42" y1="418.54" x2="257.6" y2="435.75" stroke="#fff" stroke-opacity="0.7" stroke-width="0.9"/>
<line x1="233.34" y1="426.55" x2="242.93" y2="444.1" stroke="#fff" stroke-opacity="0.7" stroke-width="0.9"/>
<line x1="198.61" y1="443.79" x2="206.78" y2="462.04" stroke="#fff" stroke-opacity="0.7" stroke-width="0.9"/>
<line x1="-12.98" y1="486.03" x2="-13.52" y2="506.02" stroke="#fff" stroke-opacity="0.7" stroke-width="0.9"/>
<line x1="-27.14" y1="485.44" x2="-28.26" y2="505.41" stroke="#fff" stroke-opacity="0.7" stroke-width="0.9"/>
<line x1="-76.9" y1="480.08" x2="-80.06" y2="499.83" stroke="#fff" stroke-opacity="0.7" stroke-width="0.9"/>
<line x1="-150.08" y1="462.46" x2="-156.26" y2="481.48" stroke="#fff" stroke-opacity="0.7" stroke-width="0.9"/>
<line x1="-159.57" y1="459.27" x2="-166.14" y2="478.16" stroke="#fff" stroke-opacity="0.7" stroke-width="0.9"/>
<line x1="-165.73" y1="457.08" x2="-172.55" y2="475.88" stroke="#fff" stroke-opacity="0.7" stroke-width="0.9"/>
<line x1="-205.63" y1="440.58" x2="-214.09" y2="458.7" stroke="#fff" stroke-opacity="0.7" stroke-width="0.9"/>
<line x1="-211.38" y1="437.85" x2="-220.08" y2="455.86" stroke="#fff" stroke-opacity="0.7" stroke-width="0.9"/>
<line x1="-231.32" y1="427.64" x2="-240.84" y2="445.24" stroke="#fff" stroke-opacity="0.7" stroke-width="0.9"/>
<line x1="-296.52" y1="385.31" x2="-308.72" y2="401.16" stroke="#fff" stroke-opacity="0.7" stroke-width="0.9"/>
<line x1="-355.93" y1="331.22" x2="-370.57" y2="344.84" stroke="#fff" stroke-opacity="0.7" stroke-width="0.9"/>
<line x1="-372.01" y1="313.04" x2="-387.32" y2="325.92" stroke="#fff" stroke-opacity="0.7" stroke-width="0.9"/>
<line x1="-460.59" y1="155.72" x2="-479.53" y2="162.13" stroke="#fff" stroke-opacity="0.7" stroke-width="0.9"/>
<line x1="-475.11" y1="103.24" x2="-494.66" y2="107.49" stroke="#fff" stroke-opacity="0.7" stroke-width="0.9"/>
<line x1="-477.65" y1="90.77" x2="-497.3" y2="94.51" stroke="#fff" stroke-opacity="0.7" stroke-width="0.9"/>
<line x1="-479.12" y1="82.67" x2="-498.83" y2="86.07" stroke="#fff" stroke-opacity="0.7" stroke-width="0.9"/>
<line x1="-483.59" y1="50.32" x2="-503.48" y2="52.39" stroke="#fff" stroke-opacity="0.7" stroke-width="0.9"/>
<line x1="-485.49" y1="-26.29" x2="-505.46" y2="-27.37" stroke="#fff" stroke-opacity="0.7" stroke-width="0.9"/>
<line x1="-478.78" y1="-84.59" x2="-498.48" y2="-88.07" stroke="#fff" stroke-opacity="0.7" stroke-width="0.9"/>
<line x1="-473.55" y1="-110.2" x2="-493.03" y2="-114.73" stroke="#fff" stroke-opacity="0.7" stroke-width="0.9"/>
<line x1="-464.46" y1="-143.77" x2="-483.56" y2="-149.69" stroke="#fff" stroke-opacity="0.7" stroke-width="0.9"/>
<line x1="-450.92" y1="-181.82" x2="-469.47" y2="-189.3" stroke="#fff" stroke-opacity="0.7" stroke-width="0.9"/>
<line x1="-435.12" y1="-216.94" x2="-453.02" y2="-225.87" stroke="#fff" stroke-opacity="0.7" stroke-width="0.9"/>
<line x1="-370.2" y1="-315.18" x2="-385.43" y2="-328.15" stroke="#fff" stroke-opacity="0.7" stroke-width="0.9"/>
<line x1="-329.85" y1="-357.2" x2="-343.41" y2="-371.89" stroke="#fff" stroke-opacity="0.7" stroke-width="0.9"/>
<line x1="-285.78" y1="-393.34" x2="-297.54" y2="-409.52" stroke="#fff" stroke-opacity="0.7" stroke-width="0.9"/>
<line x1="-261.52" y1="-409.87" x2="-272.28" y2="-426.73" stroke="#fff" stroke-opacity="0.7" stroke-width="0.9"/>
<line x1="-237.2" y1="-424.41" x2="-246.95" y2="-441.87" stroke="#fff" stroke-opacity="0.7" stroke-width="0.9"/>
<line x1="-213.21" y1="-436.96" x2="-221.98" y2="-454.93" stroke="#fff" stroke-opacity="0.7" stroke-width="0.9"/>
<line x1="-183.94" y1="-450.06" x2="-191.51" y2="-468.58" stroke="#fff" stroke-opacity="0.7" stroke-width="0.9"/>
<line x1="-150.57" y1="-462.3" x2="-156.76" y2="-481.32" stroke="#fff" stroke-opacity="0.7" stroke-width="0.9"/>
<line x1="-136.46" y1="-466.66" x2="-142.07" y2="-485.85" stroke="#fff" stroke-opacity="0.7" stroke-width="0.9"/>
<line x1="-115.48" y1="-472.29" x2="-120.23" y2="-491.71" stroke="#fff" stroke-opacity="0.7" stroke-width="0.9"/>
<line x1="-75.22" y1="-480.35" x2="-78.31" y2="-500.11" stroke="#fff" stroke-opacity="0.7" stroke-width="0.9"/>
<line x1="-67.67" y1="-481.47" x2="-70.45" y2="-501.27" stroke="#fff" stroke-opacity="0.7" stroke-width="0.9"/>
<line x1="-16.97" y1="-485.9" x2="-17.67" y2="-505.89" stroke="#fff" stroke-opacity="0.7" stroke-width="0.9"/>
<path d="M0,-528.55A528.55,528.55 0 1 1 0,528.55A528.55,528.55 0 1 1 0,-528.55ZM0,-508.55A508.55,508.55 0 1 0 0,508.55A508.55,508.55 0 1 0 0,-508.55Z" fill="#e02222"/>
<path d="M0,-528.55A528.55,528.55 0 1 1 0,528.55A528.55,528.55 0 1 1 0,-528.55ZM0,-524.35A524.35,524.35 0 1 0 0,524.35A524.35,524.35 0 1 0 0,-524.35Z" fill="#fff" fill-opacity="0.28"/>
<path d="M0,-512.75A512.75,512.75 0 1 1 0,512.75A512.75,512.75 0 1 1 0,-512.75ZM0,-508.55A508.55,508.55 0 1 0 0,508.55A508.55,508.55 0 1 0 0,-508.55Z" fill="#000" fill-opacity="0.28"/>
<path d="M514.16,122.49A528.55,528.55 0 0 1 512.17,130.55L492.79,125.61A508.55,508.55 0 0 0 494.71,117.86Z" fill="#e09090"/>
<path d="M514.16,122.49A528.55,528.55 0 0 1 512.17,130.55L508.1,129.51A524.35,524.35 0 0 0 510.08,121.52Z" fill="#fff" fill-opacity="0.28"/>
<path d="M498.79,118.83A512.75,512.75 0 0 1 496.86,126.65L492.79,125.61A508.55,508.55 0 0 0 494.71,117.86Z" fill="#000" fill-opacity="0.28"/>
<path d="M519.53,97.23A528.55,528.55 0 0 1 516.61,111.7L497.06,107.47A508.55,508.55 0 0 0 499.87,93.55Z" fill="#e09090"/>
<path d="M519.53,97.23A528.55,528.55 0 0 1 516.61,111.7L512.51,110.81A524.35,524.35 0 0 0 515.4,96.45Z" fill="#fff" fill-opacity="0.28"/>
<path d="M504,94.32A512.75,512.75 0 0 1 501.17,108.36L497.06,107.47A508.55,508.55 0 0 0 499.87,93.55Z" fill="#000" fill-opacity="0.28"/>
<line x1="499.43" y1="95.87" x2="519.07" y2="99.64" stroke="#fff" stroke-opacity="0.55" stroke-width="0.8"/>
<line x1="498.52" y1="100.52" x2="518.12" y2="104.47" stroke="#fff" stroke-opacity="0.55" stroke-width="0.8"/>
<line x1="497.56" y1="105.15" x2="517.13" y2="109.29" stroke="#fff" stroke-opacity="0.55" stroke-width="0.8"/>
<path d="M172.95,499.45A528.55,528.55 0 0 1 153.65,505.72L147.84,486.59A508.55,508.55 0 0 0 166.41,480.55Z" fill="#e09090"/>
<path d="M172.95,499.45A528.55,528.55 0 0 1 153.65,505.72L152.43,501.71A524.35,524.35 0 0 0 171.58,495.48Z" fill="#fff" fill-opacity="0.28"/>
<path d="M167.78,484.52A512.75,512.75 0 0 1 149.06,490.61L147.84,486.59A508.55,508.55 0 0 0 166.41,480.55Z" fill="#000" fill-opacity="0.28"/>
<line x1="164.1" y1="481.35" x2="170.55" y2="500.28" stroke="#fff" stroke-opacity="0.55" stroke-width="0.8"/>
<line x1="159.47" y1="482.9" x2="165.74" y2="501.89" stroke="#fff" stroke-opacity="0.55" stroke-width="0.8"/>
<line x1="154.83" y1="484.41" x2="160.92" y2="503.46" stroke="#fff" stroke-opacity="0.55" stroke-width="0.8"/>
<line x1="150.17" y1="485.87" x2="156.08" y2="504.98" stroke="#fff" stroke-opacity="0.55" stroke-width="0.8"/>
<line x1="402.05" y1="311.41" x2="417.86" y2="323.66" stroke="#fff" stroke-opacity="0.7" stroke-width="0.9"/>
<line x1="400.31" y1="313.65" x2="416.05" y2="325.99" stroke="#fff" stroke-opacity="0.7" stroke-width="0.9"/>
<line x1="398.55" y1="315.88" x2="414.22" y2="328.31" stroke="#fff" stroke-opacity="0.7" stroke-width="0.9"/>
<line x1="396.78" y1="318.11" x2="412.38" y2="330.62" stroke="#fff" stroke-opacity="0.7" stroke-width="0.9"/>
<line x1="394.99" y1="320.32" x2="410.53" y2="332.91" stroke="#fff" stroke-opacity="0.7" stroke-width="0.9"/>
<line x1="-307.06" y1="405.38" x2="-319.14" y2="421.32" stroke="#fff" stroke-opacity="0.7" stroke-width="0.9"/>
<line x1="-309.08" y1="403.85" x2="-321.24" y2="419.73" stroke="#fff" stroke-opacity="0.7" stroke-width="0.9"/>
<line x1="-311.09" y1="402.3" x2="-323.33" y2="418.12" stroke="#fff" stroke-opacity="0.7" stroke-width="0.9"/>
<line x1="-313.09" y1="400.74" x2="-325.41" y2="416.5" stroke="#fff" stroke-opacity="0.7" stroke-width="0.9"/>
<line x1="-315.09" y1="399.18" x2="-327.48" y2="414.88" stroke="#fff" stroke-opacity="0.7" stroke-width="0.9"/>
<line x1="-317.08" y1="397.6" x2="-329.55" y2="413.24" stroke="#fff" stroke-opacity="0.7" stroke-width="0.9"/>
<line x1="-319.05" y1="396.01" x2="-331.6" y2="411.59" stroke="#fff" stroke-opacity="0.7" stroke-width="0.9"/>
<line x1="-321.03" y1="394.42" x2="-333.65" y2="409.93" stroke="#fff" stroke-opacity="0.7" stroke-width="0.9"/>
<line x1="-322.99" y1="392.81" x2="-335.69" y2="408.26" stroke="#fff" stroke-opacity="0.7" stroke-width="0.9"/>
<line x1="-324.94" y1="391.2" x2="-337.72" y2="406.58" stroke="#fff" stroke-opacity="0.7" stroke-width="0.9"/>
<line x1="-326.89" y1="389.57" x2="-339.75" y2="404.89" stroke="#fff" stroke-opacity="0.7" stroke-width="0.9"/>
<line x1="-328.83" y1="387.94" x2="-341.76" y2="403.19" stroke="#fff" stroke-opacity="0.7" stroke-width="0.9"/>
<line x1="-330.76" y1="386.29" x2="-343.77" y2="401.48" stroke="#fff" stroke-opacity="0.7" stroke-width="0.9"/>
<line x1="-332.68" y1="384.64" x2="-345.76" y2="399.77" stroke="#fff" stroke-opacity="0.7" stroke-width="0.9"/>
<line x1="-504.43" y1="-64.62" x2="-524.27" y2="-67.16" stroke="#fff" stroke-opacity="0.7" stroke-width="0.9"/>
<line x1="-503.96" y1="-68.14" x2="-523.78" y2="-70.82" stroke="#fff" stroke-opacity="0.7" stroke-width="0.9"/>
<path d="M-417.64,323.95A528.55,528.55 0 0 1 -421.01,319.56L-405.08,307.47A508.55,508.55 0 0 0 -401.83,311.69Z" fill="#fff" fill-opacity="0.7"/>
<path d="M380.42,-367.37A528.85,528.85 0 0 1 397.91,-348.35L382.41,-334.78A508.25,508.25 0 0 0 365.6,-353.06Z" fill="#fff"/>
<path d="M438.44,-295.73A528.85,528.85 0 0 1 441.26,-291.51L424.07,-280.15A508.25,508.25 0 0 0 421.36,-284.21Z" fill="#fff"/>
<path d="M471.63,-239.27A528.85,528.85 0 0 1 473.9,-234.73L455.44,-225.59A508.25,508.25 0 0 0 453.26,-229.95Z" fill="#fff"/>
<path d="M498.36,-176.97A528.85,528.85 0 0 1 500.04,-172.18L480.56,-165.47A508.25,508.25 0 0 0 478.95,-170.08Z" fill="#fff"/>
<path d="M521.29,-89.11A528.85,528.85 0 0 1 522.97,-78.63L502.6,-75.56A508.25,508.25 0 0 0 500.98,-85.63Z" fill="#fff"/>
<path d="M522.97,-78.63A528.85,528.85 0 0 1 524.91,-64.45L504.46,-61.94A508.25,508.25 0 0 0 502.6,-75.56Z" fill="#fff"/>
<path d="M528.84,-3.69A528.85,528.85 0 0 1 528.85,0.92L508.25,0.89A508.25,508.25 0 0 0 508.24,-3.55Z" fill="#fff"/>
<path d="M528.84,3.69A528.85,528.85 0 0 1 528.73,11.08L508.14,10.64A508.25,508.25 0 0 0 508.24,3.55Z" fill="#fff"/>
<path d="M528.73,11.08A528.85,528.85 0 0 1 528.53,18.46L507.94,17.74A508.25,508.25 0 0 0 508.14,10.64Z" fill="#fff"/>
<path d="M516.91,111.76A528.85,528.85 0 0 1 514.45,122.56L494.41,117.79A508.25,508.25 0 0 0 496.77,107.41Z" fill="#fff"/>
<path d="M446.52,283.37A528.85,528.85 0 0 1 444.03,287.26L426.74,276.07A508.25,508.25 0 0 0 429.13,272.33Z" fill="#fff"/>
<path d="M321.94,419.56A528.85,528.85 0 0 1 318.27,422.36L305.87,405.91A508.25,508.25 0 0 0 309.4,403.22Z" fill="#fff"/>
<path d="M282.59,447.02A528.85,528.85 0 0 1 278.68,449.47L267.83,431.96A508.25,508.25 0 0 0 271.58,429.6Z" fill="#fff"/>
<path d="M178.27,497.9A528.85,528.85 0 0 1 173.05,499.74L166.31,480.27A508.25,508.25 0 0 0 171.33,478.5Z" fill="#fff"/>
<path d="M153.74,506.01A528.85,528.85 0 0 1 149.32,507.33L143.5,487.57A508.25,508.25 0 0 0 147.75,486.3Z" fill="#fff"/>
<path d="M149.32,507.33A528.85,528.85 0 0 1 137.77,510.59L132.4,490.7A508.25,508.25 0 0 0 143.5,487.57Z" fill="#fff"/>
<path d="M-488.24,203.23A528.85,528.85 0 0 1 -491.37,195.54L-472.23,187.92A508.25,508.25 0 0 0 -469.22,195.32Z" fill="#fff"/>
<path d="M-525.45,-59.87A528.85,528.85 0 0 1 -524.91,-64.45L-504.46,-61.94A508.25,508.25 0 0 0 -504.98,-57.54Z" fill="#fff"/>
<path d="M-448.49,-280.25A528.85,528.85 0 0 1 -445.78,-284.54L-428.42,-273.46A508.25,508.25 0 0 0 -431.02,-269.33Z" fill="#fff"/>
<path d="M-54.36,-526.05A528.85,528.85 0 0 1 -48.39,-526.63L-46.51,-506.12A508.25,508.25 0 0 0 -52.24,-505.56Z" fill="#fff"/>
<path d="M-40.57,-527.29A528.85,528.85 0 0 1 -37.35,-527.53L-35.9,-506.98A508.25,508.25 0 0 0 -38.99,-506.75Z" fill="#fff"/>
<line x1="61.89" y1="-504.77" x2="64.32" y2="-524.62" stroke="#fff" stroke-opacity="0.7" stroke-width="0.9"/>
<line x1="73.24" y1="-503.25" x2="76.12" y2="-523.04" stroke="#fff" stroke-opacity="0.7" stroke-width="0.9"/>
<line x1="81.66" y1="-501.95" x2="84.87" y2="-521.69" stroke="#fff" stroke-opacity="0.7" stroke-width="0.9"/>
<line x1="97.21" y1="-499.17" x2="101.03" y2="-518.8" stroke="#fff" stroke-opacity="0.7" stroke-width="0.9"/>
<line x1="122.68" y1="-493.53" x2="127.51" y2="-512.94" stroke="#fff" stroke-opacity="0.7" stroke-width="0.9"/>
<line x1="124.75" y1="-493.01" x2="129.66" y2="-512.4" stroke="#fff" stroke-opacity="0.7" stroke-width="0.9"/>
<line x1="131.88" y1="-491.15" x2="137.07" y2="-510.47" stroke="#fff" stroke-opacity="0.7" stroke-width="0.9"/>
<line x1="134.71" y1="-490.38" x2="140" y2="-509.67" stroke="#fff" stroke-opacity="0.7" stroke-width="0.9"/>
<line x1="148.09" y1="-486.51" x2="153.92" y2="-505.64" stroke="#fff" stroke-opacity="0.7" stroke-width="0.9"/>
<line x1="152.33" y1="-485.2" x2="158.32" y2="-504.28" stroke="#fff" stroke-opacity="0.7" stroke-width="0.9"/>
<line x1="160.1" y1="-482.69" x2="166.4" y2="-501.67" stroke="#fff" stroke-opacity="0.7" stroke-width="0.9"/>
<line x1="163.64" y1="-481.5" x2="170.07" y2="-500.44" stroke="#fff" stroke-opacity="0.7" stroke-width="0.9"/>
<line x1="197.89" y1="-468.47" x2="205.67" y2="-486.89" stroke="#fff" stroke-opacity="0.7" stroke-width="0.9"/>
<line x1="205.63" y1="-465.12" x2="213.72" y2="-483.42" stroke="#fff" stroke-opacity="0.7" stroke-width="0.9"/>
<line x1="211.94" y1="-462.28" x2="220.28" y2="-480.46" stroke="#fff" stroke-opacity="0.7" stroke-width="0.9"/>
<line x1="217.73" y1="-459.58" x2="226.3" y2="-477.66" stroke="#fff" stroke-opacity="0.7" stroke-width="0.9"/>
<line x1="240.08" y1="-448.31" x2="249.52" y2="-465.94" stroke="#fff" stroke-opacity="0.7" stroke-width="0.9"/>
<line x1="250.96" y1="-442.31" x2="260.83" y2="-459.71" stroke="#fff" stroke-opacity="0.7" stroke-width="0.9"/>
<line x1="254.58" y1="-440.24" x2="264.59" y2="-457.55" stroke="#fff" stroke-opacity="0.7" stroke-width="0.9"/>
<line x1="267.61" y1="-432.45" x2="278.13" y2="-449.45" stroke="#fff" stroke-opacity="0.7" stroke-width="0.9"/>
<line x1="306.83" y1="-405.56" x2="318.9" y2="-421.51" stroke="#fff" stroke-opacity="0.7" stroke-width="0.9"/>
<line x1="315.61" y1="-398.77" x2="328.02" y2="-414.45" stroke="#fff" stroke-opacity="0.7" stroke-width="0.9"/>
<line x1="354.61" y1="-364.52" x2="368.55" y2="-378.86" stroke="#fff" stroke-opacity="0.7" stroke-width="0.9"/>
<line x1="387.91" y1="-328.86" x2="403.17" y2="-341.79" stroke="#fff" stroke-opacity="0.7" stroke-width="0.9"/>
<line x1="403.03" y1="-310.15" x2="418.88" y2="-322.35" stroke="#fff" stroke-opacity="0.7" stroke-width="0.9"/>
<line x1="426.31" y1="-277.27" x2="443.08" y2="-288.18" stroke="#fff" stroke-opacity="0.7" stroke-width="0.9"/>
<line x1="435.91" y1="-261.92" x2="453.06" y2="-272.22" stroke="#fff" stroke-opacity="0.7" stroke-width="0.9"/>
<line x1="441.65" y1="-252.12" x2="459.02" y2="-262.03" stroke="#fff" stroke-opacity="0.7" stroke-width="0.9"/>
<line x1="447.18" y1="-242.19" x2="464.76" y2="-251.72" stroke="#fff" stroke-opacity="0.7" stroke-width="0.9"/>
<line x1="467.32" y1="-200.58" x2="485.7" y2="-208.47" stroke="#fff" stroke-opacity="0.7" stroke-width="0.9"/>
<line x1="502.98" y1="75.08" x2="522.76" y2="78.03" stroke="#fff" stroke-opacity="0.7" stroke-width="0.9"/>
<line x1="478.99" y1="170.84" x2="497.83" y2="177.56" stroke="#fff" stroke-opacity="0.7" stroke-width="0.9"/>
<line x1="472.97" y1="186.88" x2="491.57" y2="194.23" stroke="#fff" stroke-opacity="0.7" stroke-width="0.9"/>
<line x1="469.57" y1="195.27" x2="488.03" y2="202.95" stroke="#fff" stroke-opacity="0.7" stroke-width="0.9"/>
<line x1="465.98" y1="203.68" x2="484.31" y2="211.69" stroke="#fff" stroke-opacity="0.7" stroke-width="0.9"/>
<line x1="458.97" y1="219.02" x2="477.02" y2="227.63" stroke="#fff" stroke-opacity="0.7" stroke-width="0.9"/>
<line x1="456.96" y1="223.17" x2="474.94" y2="231.95" stroke="#fff" stroke-opacity="0.7" stroke-width="0.9"/>
<line x1="448.02" y1="240.63" x2="465.64" y2="250.09" stroke="#fff" stroke-opacity="0.7" stroke-width="0.9"/>
<line x1="439.21" y1="256.35" x2="456.49" y2="266.43" stroke="#fff" stroke-opacity="0.7" stroke-width="0.9"/>
<line x1="421.21" y1="284.97" x2="437.77" y2="296.17" stroke="#fff" stroke-opacity="0.7" stroke-width="0.9"/>
<line x1="391.56" y1="324.5" x2="406.96" y2="337.27" stroke="#fff" stroke-opacity="0.7" stroke-width="0.9"/>
<line x1="385.14" y1="332.1" x2="400.29" y2="345.16" stroke="#fff" stroke-opacity="0.7" stroke-width="0.9"/>
<line x1="368.77" y1="350.19" x2="383.27" y2="363.96" stroke="#fff" stroke-opacity="0.7" stroke-width="0.9"/>
<line x1="354.1" y1="365.02" x2="368.02" y2="379.37" stroke="#fff" stroke-opacity="0.7" stroke-width="0.9"/>
<line x1="320.32" y1="394.99" x2="332.91" y2="410.53" stroke="#fff" stroke-opacity="0.7" stroke-width="0.9"/>
<line x1="287.53" y1="419.46" x2="298.84" y2="435.96" stroke="#fff" stroke-opacity="0.7" stroke-width="0.9"/>
<line x1="258.11" y1="438.18" x2="268.26" y2="455.41" stroke="#fff" stroke-opacity="0.7" stroke-width="0.9"/>
<line x1="242.11" y1="447.22" x2="251.63" y2="464.81" stroke="#fff" stroke-opacity="0.7" stroke-width="0.9"/>
<line x1="222.77" y1="457.16" x2="231.54" y2="475.14" stroke="#fff" stroke-opacity="0.7" stroke-width="0.9"/>
<line x1="208.06" y1="464.04" x2="216.24" y2="482.29" stroke="#fff" stroke-opacity="0.7" stroke-width="0.9"/>
<line x1="39.46" y1="507.02" x2="41.01" y2="526.96" stroke="#fff" stroke-opacity="0.7" stroke-width="0.9"/>
<line x1="29.81" y1="507.68" x2="30.98" y2="527.64" stroke="#fff" stroke-opacity="0.7" stroke-width="0.9"/>
<line x1="4.97" y1="508.53" x2="5.17" y2="528.52" stroke="#fff" stroke-opacity="0.7" stroke-width="0.9"/>
<line x1="-33.79" y1="507.43" x2="-35.12" y2="527.38" stroke="#fff" stroke-opacity="0.7" stroke-width="0.9"/>
<line x1="-48.92" y1="506.19" x2="-50.84" y2="526.1" stroke="#fff" stroke-opacity="0.7" stroke-width="0.9"/>
<line x1="-80.87" y1="502.08" x2="-84.05" y2="521.82" stroke="#fff" stroke-opacity="0.7" stroke-width="0.9"/>
<line x1="-144.27" y1="487.66" x2="-149.94" y2="506.84" stroke="#fff" stroke-opacity="0.7" stroke-width="0.9"/>
<line x1="-165.32" y1="480.93" x2="-171.82" y2="499.84" stroke="#fff" stroke-opacity="0.7" stroke-width="0.9"/>
<line x1="-184.48" y1="473.91" x2="-191.74" y2="492.55" stroke="#fff" stroke-opacity="0.7" stroke-width="0.9"/>
<line x1="-190.51" y1="471.52" x2="-198" y2="490.06" stroke="#fff" stroke-opacity="0.7" stroke-width="0.9"/>
<line x1="-219.5" y1="458.74" x2="-228.13" y2="476.78" stroke="#fff" stroke-opacity="0.7" stroke-width="0.9"/>
<line x1="-222.61" y1="457.24" x2="-231.37" y2="475.22" stroke="#fff" stroke-opacity="0.7" stroke-width="0.9"/>
<line x1="-244.53" y1="445.9" x2="-254.15" y2="463.44" stroke="#fff" stroke-opacity="0.7" stroke-width="0.9"/>
<line x1="-285.92" y1="420.56" x2="-297.17" y2="437.1" stroke="#fff" stroke-opacity="0.7" stroke-width="0.9"/>
<line x1="-299.21" y1="411.22" x2="-310.97" y2="427.39" stroke="#fff" stroke-opacity="0.7" stroke-width="0.9"/>
<line x1="-337.77" y1="380.17" x2="-351.06" y2="395.13" stroke="#fff" stroke-opacity="0.7" stroke-width="0.9"/>
<line x1="-373.26" y1="345.4" x2="-387.94" y2="358.98" stroke="#fff" stroke-opacity="0.7" stroke-width="0.9"/>
<line x1="-389.29" y1="327.23" x2="-404.6" y2="340.1" stroke="#fff" stroke-opacity="0.7" stroke-width="0.9"/>
<line x1="-396.39" y1="318.59" x2="-411.98" y2="331.12" stroke="#fff" stroke-opacity="0.7" stroke-width="0.9"/>
<line x1="-412.05" y1="298.06" x2="-428.26" y2="309.78" stroke="#fff" stroke-opacity="0.7" stroke-width="0.9"/>
<line x1="-434.54" y1="264.2" x2="-451.62" y2="274.59" stroke="#fff" stroke-opacity="0.7" stroke-width="0.9"/>
<line x1="-445.39" y1="245.46" x2="-462.9" y2="255.12" stroke="#fff" stroke-opacity="0.7" stroke-width="0.9"/>
<line x1="-459.39" y1="218.13" x2="-477.46" y2="226.71" stroke="#fff" stroke-opacity="0.7" stroke-width="0.9"/>
<line x1="-480.84" y1="165.57" x2="-499.75" y2="172.08" stroke="#fff" stroke-opacity="0.7" stroke-width="0.9"/>
<line x1="-496.97" y1="107.9" x2="-516.52" y2="112.15" stroke="#fff" stroke-opacity="0.7" stroke-width="0.9"/>
<line x1="-499.32" y1="96.43" x2="-518.96" y2="100.22" stroke="#fff" stroke-opacity="0.7" stroke-width="0.9"/>
<line x1="-501.2" y1="86.12" x2="-520.92" y2="89.51" stroke="#fff" stroke-opacity="0.7" stroke-width="0.9"/>
<line x1="-505.82" y1="52.63" x2="-525.71" y2="54.7" stroke="#fff" stroke-opacity="0.7" stroke-width="0.9"/>
<line x1="-508.17" y1="19.61" x2="-528.16" y2="20.38" stroke="#fff" stroke-opacity="0.7" stroke-width="0.9"/>
<line x1="-507.85" y1="-26.62" x2="-527.83" y2="-27.66" stroke="#fff" stroke-opacity="0.7" stroke-width="0.9"/>
<line x1="-502.47" y1="-78.41" x2="-522.23" y2="-81.5" stroke="#fff" stroke-opacity="0.7" stroke-width="0.9"/>
<line x1="-500.67" y1="-89.18" x2="-520.36" y2="-92.69" stroke="#fff" stroke-opacity="0.7" stroke-width="0.9"/>
<line x1="-497.03" y1="-107.64" x2="-516.57" y2="-111.88" stroke="#fff" stroke-opacity="0.7" stroke-width="0.9"/>
<line x1="-495.32" y1="-115.26" x2="-514.79" y2="-119.8" stroke="#fff" stroke-opacity="0.7" stroke-width="0.9"/>
<line x1="-488.6" y1="-141.03" x2="-507.82" y2="-146.57" stroke="#fff" stroke-opacity="0.7" stroke-width="0.9"/>
<line x1="-485.81" y1="-150.38" x2="-504.91" y2="-156.3" stroke="#fff" stroke-opacity="0.7" stroke-width="0.9"/>
<line x1="-478.03" y1="-173.52" x2="-496.83" y2="-180.34" stroke="#fff" stroke-opacity="0.7" stroke-width="0.9"/>
<line x1="-471.62" y1="-190.26" x2="-490.17" y2="-197.74" stroke="#fff" stroke-opacity="0.7" stroke-width="0.9"/>
<line x1="-462.72" y1="-210.97" x2="-480.92" y2="-219.27" stroke="#fff" stroke-opacity="0.7" stroke-width="0.9"/>
<line x1="-455.12" y1="-226.91" x2="-473.02" y2="-235.84" stroke="#fff" stroke-opacity="0.7" stroke-width="0.9"/>
<line x1="-422.2" y1="-283.49" x2="-438.81" y2="-294.64" stroke="#fff" stroke-opacity="0.7" stroke-width="0.9"/>
<line x1="-406.25" y1="-305.91" x2="-422.23" y2="-317.94" stroke="#fff" stroke-opacity="0.7" stroke-width="0.9"/>
<line x1="-383.28" y1="-334.24" x2="-398.36" y2="-347.39" stroke="#fff" stroke-opacity="0.7" stroke-width="0.9"/>
<line x1="-363.9" y1="-355.24" x2="-378.21" y2="-369.21" stroke="#fff" stroke-opacity="0.7" stroke-width="0.9"/>
<line x1="-344.88" y1="-373.74" x2="-358.44" y2="-388.44" stroke="#fff" stroke-opacity="0.7" stroke-width="0.9"/>
<line x1="-307.47" y1="-405.08" x2="-319.56" y2="-421.01" stroke="#fff" stroke-opacity="0.7" stroke-width="0.9"/>
<line x1="-299.64" y1="-410.9" x2="-311.42" y2="-427.06" stroke="#fff" stroke-opacity="0.7" stroke-width="0.9"/>
<line x1="-272.94" y1="-429.1" x2="-283.68" y2="-445.97" stroke="#fff" stroke-opacity="0.7" stroke-width="0.9"/>
<line x1="-255.2" y1="-439.88" x2="-265.23" y2="-457.18" stroke="#fff" stroke-opacity="0.7" stroke-width="0.9"/>
<line x1="-247.33" y1="-444.36" x2="-257.05" y2="-461.83" stroke="#fff" stroke-opacity="0.7" stroke-width="0.9"/>
<line x1="-191.25" y1="-471.22" x2="-198.77" y2="-489.75" stroke="#fff" stroke-opacity="0.7" stroke-width="0.9"/>
<line x1="-173.18" y1="-478.15" x2="-179.99" y2="-496.96" stroke="#fff" stroke-opacity="0.7" stroke-width="0.9"/>
<line x1="-157.32" y1="-483.6" x2="-163.51" y2="-502.62" stroke="#fff" stroke-opacity="0.7" stroke-width="0.9"/>
<line x1="-152.59" y1="-485.12" x2="-158.59" y2="-504.2" stroke="#fff" stroke-opacity="0.7" stroke-width="0.9"/>
<line x1="-139.92" y1="-488.92" x2="-145.42" y2="-508.15" stroke="#fff" stroke-opacity="0.7" stroke-width="0.9"/>
<line x1="-120.19" y1="-494.14" x2="-124.91" y2="-513.58" stroke="#fff" stroke-opacity="0.7" stroke-width="0.9"/>
<line x1="-103.13" y1="-497.98" x2="-107.18" y2="-517.57" stroke="#fff" stroke-opacity="0.7" stroke-width="0.9"/>
<line x1="-80.43" y1="-502.15" x2="-83.59" y2="-521.9" stroke="#fff" stroke-opacity="0.7" stroke-width="0.9"/>
<path d="M0,-550.9A550.9,550.9 0 1 1 0,550.9A550.9,550.9 0 1 1 0,-550.9ZM0,-530.9A530.9,530.9 0 1 0 0,530.9A530.9,530.9 0 1 0 0,-530.9Z" fill="#22e022"/>
<path d="M0,-550.9A550.9,550.9 0 1 1 0,550.9A550.9,550.9 0 1 1 0,-550.9ZM0,-546.7A546.7,546.7 0 1 0 0,546.7A546.7,546.7 0 1 0 0,-546.7Z" fill="#fff" fill-opacity="0.28"/>
<path d="M0,-535.1A535.1,535.1 0 1 1 0,535.1A535.1,535.1 0 1 1 0,-535.1ZM0,-530.9A530.9,530.9 0 1 0 0,530.9A530.9,530.9 0 1 0 0,-530.9Z" fill="#000" fill-opacity="0.28"/>
<path d="M541.5,101.34A550.9,550.9 0 0 1 539.84,109.83L520.24,105.84A530.9,530.9 0 0 0 521.84,97.66Z" fill="#90e090"/>
<path d="M541.5,101.34A550.9,550.9 0 0 1 539.84,109.83L535.72,108.99A546.7,546.7 0 0 0 537.37,100.57Z" fill="#fff" fill-opacity="0.28"/>
<path d="M525.97,98.43A535.1,535.1 0 0 1 524.36,106.68L520.24,105.84A530.9,530.9 0 0 0 521.84,97.66Z" fill="#000" fill-opacity="0.28"/>
<line x1="521.45" y1="99.71" x2="541.1" y2="103.46" stroke="#fff" stroke-opacity="0.55" stroke-width="0.8"/>
<line x1="520.65" y1="103.8" x2="540.27" y2="107.71" stroke="#fff" stroke-opacity="0.55" stroke-width="0.8"/>
<path d="M213.6,-508.13A551.2,551.2 0 0 1 229.45,-501.17L220.88,-482.44A530.6,530.6 0 0 0 205.62,-489.14Z" fill="#fff"/>
<path d="M395.83,-383.59A551.2,551.2 0 0 1 414.1,-363.79L398.62,-350.2A530.6,530.6 0 0 0 381.04,-369.25Z" fill="#fff"/>
<path d="M543.16,-93.82A551.2,551.2 0 0 1 545.07,-81.95L524.7,-78.89A530.6,530.6 0 0 0 522.86,-90.31Z" fill="#fff"/>
<path d="M545.07,-81.95A551.2,551.2 0 0 1 546.97,-68.13L526.53,-65.58A530.6,530.6 0 0 0 524.7,-78.89Z" fill="#fff"/>
<path d="M551.2,0.48A551.2,551.2 0 0 1 550.96,16.35L530.37,15.74A530.6,530.6 0 0 0 530.6,0.46Z" fill="#fff"/>
<path d="M538.55,117.42A551.2,551.2 0 0 1 537.29,123.06L517.21,118.46A530.6,530.6 0 0 0 518.42,113.03Z" fill="#fff"/>
<path d="M183.09,519.9A551.2,551.2 0 0 1 174.9,522.72L168.36,503.18A530.6,530.6 0 0 0 176.24,500.47Z" fill="#fff"/>
<path d="M168.5,524.81A551.2,551.2 0 0 1 165.75,525.69L159.55,506.04A530.6,530.6 0 0 0 162.2,505.2Z" fill="#fff"/>
<path d="M-332.49,439.63A551.2,551.2 0 0 1 -350.61,425.32L-337.5,409.42A530.6,530.6 0 0 0 -320.06,423.2Z" fill="#fff"/>
<line x1="60.1" y1="-527.49" x2="62.36" y2="-547.36" stroke="#fff" stroke-opacity="0.7" stroke-width="0.9"/>
<line x1="524.88" y1="79.75" x2="544.65" y2="82.76" stroke="#fff" stroke-opacity="0.7" stroke-width="0.9"/>
<line x1="442.71" y1="293.02" x2="459.39" y2="304.06" stroke="#fff" stroke-opacity="0.7" stroke-width="0.9"/>
<line x1="322.97" y1="421.36" x2="335.14" y2="437.23" stroke="#fff" stroke-opacity="0.7" stroke-width="0.9"/>
<line x1="318.47" y1="424.78" x2="330.46" y2="440.78" stroke="#fff" stroke-opacity="0.7" stroke-width="0.9"/>
<line x1="-173.9" y1="501.61" x2="-180.45" y2="520.51" stroke="#fff" stroke-opacity="0.7" stroke-width="0.9"/>
<line x1="-178.61" y1="499.95" x2="-185.34" y2="518.79" stroke="#fff" stroke-opacity="0.7" stroke-width="0.9"/>
<line x1="-235.31" y1="475.9" x2="-244.17" y2="493.83" stroke="#fff" stroke-opacity="0.7" stroke-width="0.9"/>
<line x1="-258.2" y1="463.89" x2="-267.92" y2="481.36" stroke="#fff" stroke-opacity="0.7" stroke-width="0.9"/>
<line x1="-406.81" y1="341.11" x2="-422.14" y2="353.96" stroke="#fff" stroke-opacity="0.7" stroke-width="0.9"/>
<line x1="-524.32" y1="-83.33" x2="-544.07" y2="-86.46" stroke="#fff" stroke-opacity="0.7" stroke-width="0.9"/>
<line x1="-440.14" y1="-296.88" x2="-456.72" y2="-308.06" stroke="#fff" stroke-opacity="0.7" stroke-width="0.9"/>
<line x1="-347.67" y1="-401.22" x2="-360.77" y2="-416.34" stroke="#fff" stroke-opacity="0.7" stroke-width="0.9"/>
<line x1="-293.02" y1="-442.71" x2="-304.06" y2="-459.39" stroke="#fff" stroke-opacity="0.7" stroke-width="0.9"/>
<line x1="-198.88" y1="-492.24" x2="-206.37" y2="-510.79" stroke="#fff" stroke-opacity="0.7" stroke-width="0.9"/>
<line x1="-180.36" y1="-499.33" x2="-187.15" y2="-518.14" stroke="#fff" stroke-opacity="0.7" stroke-width="0.9"/>
<line x1="-107.84" y1="-519.83" x2="-111.9" y2="-539.41" stroke="#fff" stroke-opacity="0.7" stroke-width="0.9"/>
<line x1="-69.3" y1="-526.36" x2="-71.91" y2="-546.19" stroke="#fff" stroke-opacity="0.7" stroke-width="0.9"/>
<line x1="441.5" y1="1.93" x2="461.5" y2="2.01" stroke="#e07ae0" stroke-width="0.9"/>
<line x1="441.38" y1="10.27" x2="461.38" y2="10.74" stroke="#e07ae0" stroke-width="0.9"/>
<line x1="441.33" y1="12.33" x2="461.32" y2="12.89" stroke="#e07ae0" stroke-width="0.9"/>
<line x1="441.27" y1="14.38" x2="461.26" y2="15.03" stroke="#e07ae0" stroke-width="0.9"/>
<line x1="123.17" y1="423.97" x2="128.75" y2="443.18" stroke="#e07ae0" stroke-width="0.9"/>
<line x1="120.21" y1="424.82" x2="125.66" y2="444.06" stroke="#e07ae0" stroke-width="0.9"/>
<line x1="335.35" y1="-320.47" x2="349.81" y2="-334.28" stroke="#aee0e0" stroke-width="0.9"/>
<line x1="338.69" y1="-316.94" x2="353.29" y2="-330.6" stroke="#aee0e0" stroke-width="0.9"/>
<line x1="457.94" y1="-73.83" x2="477.68" y2="-77.01" stroke="#aee0e0" stroke-width="0.9"/>
<line x1="458.3" y1="-71.56" x2="478.06" y2="-74.65" stroke="#aee0e0" stroke-width="0.9"/>
<line x1="458.64" y1="-69.3" x2="478.42" y2="-72.28" stroke="#aee0e0" stroke-width="0.9"/>
<line x1="463.85" y1="2.02" x2="483.85" y2="2.11" stroke="#aee0e0" stroke-width="0.9"/>
<line x1="463.72" y1="10.79" x2="483.72" y2="11.26" stroke="#aee0e0" stroke-width="0.9"/>
<line x1="463.67" y1="12.95" x2="483.66" y2="13.51" stroke="#aee0e0" stroke-width="0.9"/>
<line x1="463.6" y1="15.11" x2="483.59" y2="15.76" stroke="#aee0e0" stroke-width="0.9"/>
<line x1="129.02" y1="445.54" x2="134.58" y2="464.76" stroke="#aee0e0" stroke-width="0.9"/>
<line x1="125.13" y1="446.65" x2="130.52" y2="465.91" stroke="#aee0e0" stroke-width="0.9"/>
<line x1="486.2" y1="2.12" x2="506.2" y2="2.21" stroke="#e0b022" stroke-width="0.9"/>
<line x1="486.07" y1="11.31" x2="506.06" y2="11.78" stroke="#e0b022" stroke-width="0.9"/>
<line x1="486.01" y1="13.58" x2="506" y2="14.13" stroke="#e0b022" stroke-width="0.9"/>
<line x1="485.94" y1="15.84" x2="505.93" y2="16.49" stroke="#e0b022" stroke-width="0.9"/>
<line x1="474.3" y1="106.89" x2="493.82" y2="111.29" stroke="#e0b022" stroke-width="0.9"/>
<line x1="135.37" y1="466.97" x2="140.94" y2="486.18" stroke="#e0b022" stroke-width="0.9"/>
<line x1="131.57" y1="468.06" x2="136.98" y2="487.31" stroke="#e0b022" stroke-width="0.9"/>
<line x1="127.75" y1="469.12" x2="133" y2="488.41" stroke="#e0b022" stroke-width="0.9"/>
<line x1="368.28" y1="-350.71" x2="382.76" y2="-364.5" stroke="#e02222" stroke-width="0.9"/>
<line x1="370.72" y1="-348.13" x2="385.3" y2="-361.82" stroke="#e02222" stroke-width="0.9"/>
<line x1="373.74" y1="-344.88" x2="388.44" y2="-358.44" stroke="#e02222" stroke-width="0.9"/>
<line x1="501.56" y1="-84.01" x2="521.29" y2="-87.31" stroke="#e02222" stroke-width="0.9"/>
<line x1="502.11" y1="-80.65" x2="521.86" y2="-83.82" stroke="#e02222" stroke-width="0.9"/>
<line x1="502.64" y1="-77.29" x2="522.41" y2="-80.33" stroke="#e02222" stroke-width="0.9"/>
<line x1="508.55" y1="2.22" x2="528.54" y2="2.31" stroke="#e02222" stroke-width="0.9"/>
<line x1="508.41" y1="11.83" x2="528.41" y2="12.3" stroke="#e02222" stroke-width="0.9"/>
<line x1="508.35" y1="14.2" x2="528.34" y2="14.76" stroke="#e02222" stroke-width="0.9"/>
<line x1="508.28" y1="16.57" x2="528.27" y2="17.22" stroke="#e02222" stroke-width="0.9"/>
<line x1="141.74" y1="488.4" x2="147.31" y2="507.61" stroke="#e02222" stroke-width="0.9"/>
<line x1="138.04" y1="489.46" x2="143.47" y2="508.71" stroke="#e02222" stroke-width="0.9"/>
<line x1="134.34" y1="490.49" x2="139.62" y2="509.78" stroke="#e02222" stroke-width="0.9"/>
<line x1="208.72" y1="-488.15" x2="216.58" y2="-506.54" stroke="#22e022" stroke-width="0.9"/>
<line x1="212.12" y1="-486.68" x2="220.11" y2="-505.02" stroke="#22e022" stroke-width="0.9"/>
<line x1="215.09" y1="-485.38" x2="223.19" y2="-503.66" stroke="#22e022" stroke-width="0.9"/>
<line x1="217.63" y1="-484.24" x2="225.83" y2="-502.49" stroke="#22e022" stroke-width="0.9"/>
<line x1="383.82" y1="-366.79" x2="398.28" y2="-380.61" stroke="#22e022" stroke-width="0.9"/>
<line x1="385.74" y1="-364.77" x2="400.27" y2="-378.52" stroke="#22e022" stroke-width="0.9"/>
<line x1="388.28" y1="-362.07" x2="402.9" y2="-375.71" stroke="#22e022" stroke-width="0.9"/>
<line x1="390.79" y1="-359.35" x2="405.52" y2="-372.89" stroke="#22e022" stroke-width="0.9"/>
<line x1="523.4" y1="-88.94" x2="543.11" y2="-92.29" stroke="#22e022" stroke-width="0.9"/>
<line x1="523.87" y1="-86.08" x2="543.61" y2="-89.32" stroke="#22e022" stroke-width="0.9"/>
<line x1="524.34" y1="-83.22" x2="544.09" y2="-86.36" stroke="#22e022" stroke-width="0.9"/>
<line x1="524.78" y1="-80.36" x2="544.55" y2="-83.39" stroke="#22e022" stroke-width="0.9"/>
<line x1="530.89" y1="2.32" x2="550.89" y2="2.4" stroke="#22e022" stroke-width="0.9"/>
<line x1="-327.58" y1="417.78" x2="-339.93" y2="433.52" stroke="#22e022" stroke-width="0.9"/>
<line x1="104.19" y1="-544.11" x2="107.76" y2="-562.78" stroke="#5066b0" stroke-width="1.0"/>
<line x1="179.45" y1="-524.13" x2="185.6" y2="-542.11" stroke="#5066b0" stroke-width="1.0"/>
<line x1="248.92" y1="-494.93" x2="257.46" y2="-511.9" stroke="#5066b0" stroke-width="1.0"/>
<line x1="291.6" y1="-471.04" x2="301.61" y2="-487.2" stroke="#5066b0" stroke-width="1.0"/>
<line x1="337.79" y1="-439.11" x2="349.38" y2="-454.16" stroke="#5066b0" stroke-width="1.0"/>
<line x1="372.99" y1="-409.63" x2="385.78" y2="-423.67" stroke="#5066b0" stroke-width="1.0"/>
<line x1="434.29" y1="-343.96" x2="449.18" y2="-355.76" stroke="#5066b0" stroke-width="1.0"/>
<line x1="437.39" y1="-340.01" x2="452.39" y2="-351.67" stroke="#5066b0" stroke-width="1.0"/>
<line x1="440.46" y1="-336.03" x2="455.56" y2="-347.55" stroke="#5066b0" stroke-width="1.0"/>
<line x1="460.53" y1="-307.95" x2="476.32" y2="-318.51" stroke="#5066b0" stroke-width="1.0"/>
<line x1="461.71" y1="-306.18" x2="477.54" y2="-316.68" stroke="#5066b0" stroke-width="1.0"/>
<line x1="464.99" y1="-301.16" x2="480.94" y2="-311.49" stroke="#5066b0" stroke-width="1.0"/>
<line x1="486.68" y1="-264.69" x2="503.37" y2="-273.76" stroke="#5066b0" stroke-width="1.0"/>
<line x1="534.72" y1="-144.88" x2="553.06" y2="-149.85" stroke="#5066b0" stroke-width="1.0"/>
<line x1="536.86" y1="-136.74" x2="555.27" y2="-141.43" stroke="#5066b0" stroke-width="1.0"/>
<line x1="550.56" y1="-61.66" x2="569.44" y2="-63.77" stroke="#5066b0" stroke-width="1.0"/>
<line x1="553.94" y1="-8.03" x2="572.94" y2="-8.3" stroke="#5066b0" stroke-width="1.0"/>
<line x1="553.99" y1="2.71" x2="572.99" y2="2.8" stroke="#5066b0" stroke-width="1.0"/>
<line x1="548.87" y1="75.19" x2="567.7" y2="77.77" stroke="#5066b0" stroke-width="1.0"/>
<line x1="548.13" y1="80.45" x2="566.93" y2="83.21" stroke="#5066b0" stroke-width="1.0"/>
<line x1="547.33" y1="85.71" x2="566.1" y2="88.65" stroke="#5066b0" stroke-width="1.0"/>
<line x1="519.46" y1="192.57" x2="537.27" y2="199.17" stroke="#5066b0" stroke-width="1.0"/>
<line x1="509.69" y1="217.09" x2="527.18" y2="224.53" stroke="#5066b0" stroke-width="1.0"/>
<line x1="503.39" y1="231.32" x2="520.66" y2="239.26" stroke="#5066b0" stroke-width="1.0"/>
<line x1="498.23" y1="242.25" x2="515.32" y2="250.56" stroke="#5066b0" stroke-width="1.0"/>
<line x1="483.17" y1="271.03" x2="499.74" y2="280.33" stroke="#5066b0" stroke-width="1.0"/>
<line x1="462.98" y1="304.24" x2="478.86" y2="314.67" stroke="#5066b0" stroke-width="1.0"/>
<line x1="455.52" y1="315.3" x2="471.15" y2="326.11" stroke="#5066b0" stroke-width="1.0"/>
<line x1="399.99" y1="383.31" x2="413.71" y2="396.45" stroke="#5066b0" stroke-width="1.0"/>
<line x1="336.41" y1="440.16" x2="347.95" y2="455.26" stroke="#5066b0" stroke-width="1.0"/>
<line x1="329.53" y1="445.34" x2="340.83" y2="460.61" stroke="#5066b0" stroke-width="1.0"/>
<line x1="288.31" y1="473.07" x2="298.2" y2="489.29" stroke="#5066b0" stroke-width="1.0"/>
<line x1="276.33" y1="480.16" x2="285.81" y2="496.63" stroke="#5066b0" stroke-width="1.0"/>
<line x1="221.88" y1="507.63" x2="229.49" y2="525.04" stroke="#5066b0" stroke-width="1.0"/>
<line x1="214.86" y1="510.64" x2="222.23" y2="528.15" stroke="#5066b0" stroke-width="1.0"/>
<line x1="204.75" y1="514.78" x2="211.77" y2="532.43" stroke="#5066b0" stroke-width="1.0"/>
<line x1="75.19" y1="548.87" x2="77.77" y2="567.7" stroke="#5066b0" stroke-width="1.0"/>
<line x1="73.46" y1="549.11" x2="75.98" y2="567.94" stroke="#5066b0" stroke-width="1.0"/>
<line x1="-40.57" y1="552.51" x2="-41.97" y2="571.46" stroke="#5066b0" stroke-width="1.0"/>
<line x1="-56.18" y1="551.14" x2="-58.1" y2="570.05" stroke="#5066b0" stroke-width="1.0"/>
<line x1="-66.65" y1="549.98" x2="-68.94" y2="568.84" stroke="#5066b0" stroke-width="1.0"/>
<line x1="-102.95" y1="544.35" x2="-106.49" y2="563.02" stroke="#5066b0" stroke-width="1.0"/>
<line x1="-154.75" y1="531.95" x2="-160.05" y2="550.19" stroke="#5066b0" stroke-width="1.0"/>
<line x1="-177.16" y1="524.91" x2="-183.24" y2="542.91" stroke="#5066b0" stroke-width="1.0"/>
<line x1="-237.8" y1="500.36" x2="-245.96" y2="517.53" stroke="#5066b0" stroke-width="1.0"/>
<line x1="-263.5" y1="487.33" x2="-272.53" y2="504.04" stroke="#5066b0" stroke-width="1.0"/>
<line x1="-266.89" y1="485.47" x2="-276.04" y2="502.12" stroke="#5066b0" stroke-width="1.0"/>
<line x1="-311.71" y1="457.99" x2="-322.4" y2="473.69" stroke="#5066b0" stroke-width="1.0"/>
<line x1="-356.7" y1="423.89" x2="-368.93" y2="438.43" stroke="#5066b0" stroke-width="1.0"/>
<line x1="-364.04" y1="417.6" x2="-376.53" y2="431.92" stroke="#5066b0" stroke-width="1.0"/>
<line x1="-370.48" y1="411.9" x2="-383.19" y2="426.02" stroke="#5066b0" stroke-width="1.0"/>
<line x1="-388.17" y1="395.28" x2="-401.48" y2="408.83" stroke="#5066b0" stroke-width="1.0"/>
<line x1="-391.6" y1="391.87" x2="-405.03" y2="405.31" stroke="#5066b0" stroke-width="1.0"/>
<line x1="-396.7" y1="386.71" x2="-410.3" y2="399.98" stroke="#5066b0" stroke-width="1.0"/>
<line x1="-424.45" y1="356.03" x2="-439.01" y2="368.24" stroke="#5066b0" stroke-width="1.0"/>
<line x1="-428.28" y1="351.42" x2="-442.97" y2="363.47" stroke="#5066b0" stroke-width="1.0"/>
<line x1="-442.62" y1="333.17" x2="-457.8" y2="344.6" stroke="#5066b0" stroke-width="1.0"/>
<line x1="-445.16" y1="329.76" x2="-460.43" y2="341.07" stroke="#5066b0" stroke-width="1.0"/>
<line x1="-484.54" y1="268.58" x2="-501.16" y2="277.8" stroke="#5066b0" stroke-width="1.0"/>
<line x1="-493.35" y1="252.03" x2="-510.27" y2="260.67" stroke="#5066b0" stroke-width="1.0"/>
<line x1="-502.09" y1="234.13" x2="-519.31" y2="242.16" stroke="#5066b0" stroke-width="1.0"/>
<line x1="-530.3" y1="160.31" x2="-548.49" y2="165.81" stroke="#5066b0" stroke-width="1.0"/>
<line x1="-533.38" y1="149.73" x2="-551.68" y2="154.86" stroke="#5066b0" stroke-width="1.0"/>
<line x1="-537.54" y1="134.02" x2="-555.98" y2="138.62" stroke="#5066b0" stroke-width="1.0"/>
<line x1="-545.3" y1="97.82" x2="-564" y2="101.17" stroke="#5066b0" stroke-width="1.0"/>
<line x1="-547.04" y1="87.52" x2="-565.8" y2="90.53" stroke="#5066b0" stroke-width="1.0"/>
<line x1="-553.85" y1="12.86" x2="-572.85" y2="13.3" stroke="#5066b0" stroke-width="1.0"/>
<line x1="-553.91" y1="-10.25" x2="-572.9" y2="-10.6" stroke="#5066b0" stroke-width="1.0"/>
<line x1="-553.44" y1="-24.84" x2="-572.42" y2="-25.69" stroke="#5066b0" stroke-width="1.0"/>
<line x1="-551.43" y1="-53.29" x2="-570.34" y2="-55.12" stroke="#5066b0" stroke-width="1.0"/>
<line x1="-544.65" y1="-101.34" x2="-563.33" y2="-104.81" stroke="#5066b0" stroke-width="1.0"/>
<line x1="-535.12" y1="-143.39" x2="-553.48" y2="-148.3" stroke="#5066b0" stroke-width="1.0"/>
<line x1="-525.86" y1="-174.32" x2="-543.9" y2="-180.3" stroke="#5066b0" stroke-width="1.0"/>
<line x1="-516.79" y1="-199.62" x2="-534.51" y2="-206.46" stroke="#5066b0" stroke-width="1.0"/>
<line x1="-511.9" y1="-211.83" x2="-529.46" y2="-219.09" stroke="#5066b0" stroke-width="1.0"/>
<line x1="-510.97" y1="-214.06" x2="-528.5" y2="-221.4" stroke="#5066b0" stroke-width="1.0"/>
<line x1="-497.25" y1="-244.25" x2="-514.31" y2="-252.62" stroke="#5066b0" stroke-width="1.0"/>
<line x1="-487.6" y1="-262.99" x2="-504.32" y2="-272" stroke="#5066b0" stroke-width="1.0"/>
<line x1="-486.31" y1="-265.37" x2="-502.99" y2="-274.47" stroke="#5066b0" stroke-width="1.0"/>
<line x1="-447.06" y1="-327.2" x2="-462.39" y2="-338.42" stroke="#5066b0" stroke-width="1.0"/>
<line x1="-435.3" y1="-342.67" x2="-450.23" y2="-354.43" stroke="#5066b0" stroke-width="1.0"/>
<line x1="-432.72" y1="-345.93" x2="-447.56" y2="-357.8" stroke="#5066b0" stroke-width="1.0"/>
<line x1="-412.35" y1="-369.98" x2="-426.49" y2="-382.67" stroke="#5066b0" stroke-width="1.0"/>
<line x1="-403.91" y1="-379.17" x2="-417.77" y2="-392.17" stroke="#5066b0" stroke-width="1.0"/>
<line x1="-400.92" y1="-382.33" x2="-414.67" y2="-395.44" stroke="#5066b0" stroke-width="1.0"/>
<line x1="-388.65" y1="-394.8" x2="-401.98" y2="-408.34" stroke="#5066b0" stroke-width="1.0"/>
<line x1="-344.42" y1="-433.93" x2="-356.23" y2="-448.81" stroke="#5066b0" stroke-width="1.0"/>
<line x1="-341.23" y1="-436.44" x2="-352.93" y2="-451.41" stroke="#5066b0" stroke-width="1.0"/>
<line x1="-327.98" y1="-446.48" x2="-339.22" y2="-461.8" stroke="#5066b0" stroke-width="1.0"/>
<line x1="-292.75" y1="-470.33" x2="-302.8" y2="-486.46" stroke="#5066b0" stroke-width="1.0"/>
<line x1="-271.96" y1="-482.65" x2="-281.29" y2="-499.21" stroke="#5066b0" stroke-width="1.0"/>
<line x1="-266.47" y1="-485.71" x2="-275.61" y2="-502.36" stroke="#5066b0" stroke-width="1.0"/>
<line x1="-218.07" y1="-509.28" x2="-225.54" y2="-526.74" stroke="#5066b0" stroke-width="1.0"/>
<line x1="-213.79" y1="-511.09" x2="-221.12" y2="-528.61" stroke="#5066b0" stroke-width="1.0"/>
<line x1="-176.34" y1="-525.19" x2="-182.38" y2="-543.2" stroke="#5066b0" stroke-width="1.0"/>
<line x1="-165.02" y1="-528.85" x2="-170.68" y2="-546.99" stroke="#5066b0" stroke-width="1.0"/>
<line x1="-118.21" y1="-541.24" x2="-122.26" y2="-559.8" stroke="#5066b0" stroke-width="1.0"/>
<line x1="-113.29" y1="-542.29" x2="-117.18" y2="-560.89" stroke="#5066b0" stroke-width="1.0"/>
<line x1="-75.38" y1="-548.85" x2="-77.96" y2="-567.67" stroke="#5066b0" stroke-width="1.0"/>
<line x1="-62.23" y1="-550.49" x2="-64.37" y2="-569.37" stroke="#5066b0" stroke-width="1.0"/>
<line x1="-19.91" y1="-553.64" x2="-20.6" y2="-572.63" stroke="#5066b0" stroke-width="1.0"/>
<path d="M221.21,-528.04A572.5,572.5 0 0 1 248,-516L239.99,-499.32A554,554 0 0 0 214.06,-510.97Z" fill="#1f45e0"/>
<path d="M221.21,-528.04A572.5,572.5 0 0 1 248,-516L246.32,-512.49A568.62,568.62 0 0 0 219.71,-524.45Z" fill="#fff" fill-opacity="0.28"/>
<path d="M215.56,-514.56A557.88,557.88 0 0 1 241.67,-502.82L239.99,-499.32A554,554 0 0 0 214.06,-510.97Z" fill="#000" fill-opacity="0.28"/>
<path d="M572.85,13A573,573 0 0 1 572.72,18L553.73,17.4A554,554 0 0 0 553.86,12.57Z" fill="#2a50d8"/>
<path d="M572.85,13A573,573 0 0 1 572.72,18L568.73,17.87A569.01,569.01 0 0 0 568.86,12.91Z" fill="#fff" fill-opacity="0.28"/>
<path d="M557.85,12.66A557.99,557.99 0 0 1 557.71,17.53L553.73,17.4A554,554 0 0 0 553.86,12.57Z" fill="#000" fill-opacity="0.28"/>
<circle r="393" fill="none" stroke="#000" stroke-width="3.2"/>
<line x1="0" y1="-389.5" x2="0" y2="-383" stroke="#000" stroke-width="1.6"/>
<line x1="0" y1="-582" x2="0" y2="-575.8" stroke="#000" stroke-width="1.6"/>
<line x1="50.39" y1="-386.23" x2="50.07" y2="-383.75" stroke="#000" stroke-width="1.8"/>
<line x1="74.84" y1="-573.64" x2="74.49" y2="-570.96" stroke="#000" stroke-width="1.8"/>
<line x1="99.94" y1="-376.46" x2="99.3" y2="-374.04" stroke="#000" stroke-width="1.8"/>
<line x1="148.43" y1="-559.13" x2="147.74" y2="-556.52" stroke="#000" stroke-width="1.8"/>
<line x1="147.8" y1="-360.37" x2="146.85" y2="-358.05" stroke="#000" stroke-width="1.8"/>
<line x1="219.52" y1="-535.23" x2="218.5" y2="-532.73" stroke="#000" stroke-width="1.8"/>
<line x1="193.18" y1="-338.22" x2="191.94" y2="-336.05" stroke="#000" stroke-width="1.8"/>
<line x1="286.92" y1="-502.33" x2="285.58" y2="-499.99" stroke="#000" stroke-width="1.8"/>
<line x1="235.32" y1="-310.38" x2="231.39" y2="-305.2" stroke="#000" stroke-width="1.6"/>
<line x1="351.62" y1="-463.78" x2="347.87" y2="-458.84" stroke="#000" stroke-width="1.6"/>
<line x1="273.49" y1="-277.33" x2="271.74" y2="-275.55" stroke="#000" stroke-width="1.8"/>
<line x1="406.2" y1="-411.9" x2="404.31" y2="-409.98" stroke="#000" stroke-width="1.8"/>
<line x1="307.08" y1="-239.61" x2="305.11" y2="-238.08" stroke="#000" stroke-width="1.8"/>
<line x1="456.08" y1="-355.88" x2="453.95" y2="-354.22" stroke="#000" stroke-width="1.8"/>
<line x1="335.5" y1="-197.87" x2="333.34" y2="-196.6" stroke="#000" stroke-width="1.8"/>
<line x1="498.29" y1="-293.89" x2="495.96" y2="-292.51" stroke="#000" stroke-width="1.8"/>
<line x1="358.28" y1="-152.8" x2="355.98" y2="-151.82" stroke="#000" stroke-width="1.8"/>
<line x1="532.12" y1="-226.95" x2="529.64" y2="-225.89" stroke="#000" stroke-width="1.8"/>
<line x1="375.03" y1="-105.17" x2="368.78" y2="-103.41" stroke="#000" stroke-width="1.6"/>
<line x1="560.38" y1="-157.14" x2="554.41" y2="-155.47" stroke="#000" stroke-width="1.6"/>
<line x1="385.49" y1="-55.76" x2="383.01" y2="-55.4" stroke="#000" stroke-width="1.8"/>
<line x1="572.54" y1="-82.82" x2="569.87" y2="-82.43" stroke="#000" stroke-width="1.8"/>
<line x1="389.46" y1="-5.42" x2="386.96" y2="-5.39" stroke="#000" stroke-width="1.8"/>
<line x1="578.44" y1="-8.05" x2="575.74" y2="-8.01" stroke="#000" stroke-width="1.8"/>
<line x1="386.89" y1="45.01" x2="384.41" y2="44.72" stroke="#000" stroke-width="1.8"/>
<line x1="574.62" y1="66.85" x2="571.94" y2="66.54" stroke="#000" stroke-width="1.8"/>
<line x1="377.82" y1="94.69" x2="375.39" y2="94.08" stroke="#000" stroke-width="1.8"/>
<line x1="561.15" y1="140.63" x2="558.53" y2="139.98" stroke="#000" stroke-width="1.8"/>
<line x1="362.39" y1="142.77" x2="356.34" y2="140.39" stroke="#000" stroke-width="1.6"/>
<line x1="541.49" y1="213.33" x2="535.72" y2="211.06" stroke="#000" stroke-width="1.6"/>
<line x1="340.87" y1="188.46" x2="338.68" y2="187.25" stroke="#000" stroke-width="1.8"/>
<line x1="506.28" y1="279.9" x2="503.91" y2="278.6" stroke="#000" stroke-width="1.8"/>
<line x1="313.63" y1="230.97" x2="311.61" y2="229.49" stroke="#000" stroke-width="1.8"/>
<line x1="465.81" y1="343.05" x2="463.63" y2="341.45" stroke="#000" stroke-width="1.8"/>
<line x1="281.11" y1="269.61" x2="279.3" y2="267.88" stroke="#000" stroke-width="1.8"/>
<line x1="417.51" y1="400.43" x2="415.56" y2="398.56" stroke="#000" stroke-width="1.8"/>
<line x1="243.86" y1="303.71" x2="242.3" y2="301.76" stroke="#000" stroke-width="1.8"/>
<line x1="362.2" y1="451.08" x2="360.51" y2="448.98" stroke="#000" stroke-width="1.8"/>
<line x1="202.52" y1="332.71" x2="199.14" y2="327.16" stroke="#000" stroke-width="1.6"/>
<line x1="302.61" y1="497.14" x2="299.39" y2="491.85" stroke="#000" stroke-width="1.6"/>
<line x1="157.77" y1="356.11" x2="156.76" y2="353.83" stroke="#000" stroke-width="1.8"/>
<line x1="234.33" y1="528.91" x2="233.24" y2="526.45" stroke="#000" stroke-width="1.8"/>
<line x1="110.38" y1="373.53" x2="109.67" y2="371.14" stroke="#000" stroke-width="1.8"/>
<line x1="163.93" y1="554.79" x2="163.17" y2="552.2" stroke="#000" stroke-width="1.8"/>
<line x1="61.12" y1="384.67" x2="60.73" y2="382.21" stroke="#000" stroke-width="1.8"/>
<line x1="90.78" y1="571.33" x2="90.36" y2="568.67" stroke="#000" stroke-width="1.8"/>
<line x1="10.84" y1="389.35" x2="10.77" y2="386.85" stroke="#000" stroke-width="1.8"/>
<line x1="16.1" y1="578.28" x2="16.02" y2="575.58" stroke="#000" stroke-width="1.8"/>
<line x1="-39.62" y1="387.48" x2="-38.96" y2="381.01" stroke="#000" stroke-width="1.6"/>
<line x1="-59.21" y1="578.98" x2="-58.58" y2="572.81" stroke="#000" stroke-width="1.6"/>
<line x1="-89.42" y1="379.1" x2="-88.85" y2="376.66" stroke="#000" stroke-width="1.8"/>
<line x1="-132.81" y1="563.05" x2="-132.19" y2="560.42" stroke="#000" stroke-width="1.8"/>
<line x1="-137.72" y1="364.34" x2="-136.83" y2="362" stroke="#000" stroke-width="1.8"/>
<line x1="-204.54" y1="541.13" x2="-203.59" y2="538.61" stroke="#000" stroke-width="1.8"/>
<line x1="-183.7" y1="343.46" x2="-182.52" y2="341.26" stroke="#000" stroke-width="1.8"/>
<line x1="-272.83" y1="510.12" x2="-271.56" y2="507.74" stroke="#000" stroke-width="1.8"/>
<line x1="-226.59" y1="316.81" x2="-225.13" y2="314.78" stroke="#000" stroke-width="1.8"/>
<line x1="-336.54" y1="470.54" x2="-334.97" y2="468.34" stroke="#000" stroke-width="1.8"/>
<line x1="-265.67" y1="284.83" x2="-261.24" y2="280.08" stroke="#000" stroke-width="1.6"/>
<line x1="-396.97" y1="425.6" x2="-392.74" y2="421.07" stroke="#000" stroke-width="1.6"/>
<line x1="-300.29" y1="248.07" x2="-298.36" y2="246.47" stroke="#000" stroke-width="1.8"/>
<line x1="-446" y1="368.44" x2="-443.92" y2="366.72" stroke="#000" stroke-width="1.8"/>
<line x1="-329.86" y1="207.13" x2="-327.74" y2="205.8" stroke="#000" stroke-width="1.8"/>
<line x1="-489.92" y1="307.64" x2="-487.63" y2="306.2" stroke="#000" stroke-width="1.8"/>
<line x1="-353.88" y1="162.72" x2="-351.61" y2="161.67" stroke="#000" stroke-width="1.8"/>
<line x1="-525.6" y1="241.67" x2="-523.15" y2="240.54" stroke="#000" stroke-width="1.8"/>
<line x1="-371.96" y1="115.56" x2="-369.57" y2="114.82" stroke="#000" stroke-width="1.8"/>
<line x1="-552.45" y1="171.64" x2="-549.87" y2="170.84" stroke="#000" stroke-width="1.8"/>
<line x1="-383.79" y1="66.47" x2="-377.38" y2="65.36" stroke="#000" stroke-width="1.6"/>
<line x1="-573.46" y1="99.32" x2="-567.35" y2="98.26" stroke="#000" stroke-width="1.6"/>
<line x1="-389.16" y1="16.26" x2="-386.66" y2="16.15" stroke="#000" stroke-width="1.8"/>
<line x1="-578" y1="24.15" x2="-575.3" y2="24.03" stroke="#000" stroke-width="1.8"/>
<line x1="-387.99" y1="-34.23" x2="-385.5" y2="-34.01" stroke="#000" stroke-width="1.8"/>
<line x1="-576.26" y1="-50.84" x2="-573.57" y2="-50.6" stroke="#000" stroke-width="1.8"/>
<line x1="-380.3" y1="-84.14" x2="-377.86" y2="-83.6" stroke="#000" stroke-width="1.8"/>
<line x1="-564.84" y1="-124.96" x2="-562.21" y2="-124.38" stroke="#000" stroke-width="1.8"/>
<line x1="-366.22" y1="-132.63" x2="-363.87" y2="-131.78" stroke="#000" stroke-width="1.8"/>
<line x1="-543.93" y1="-196.99" x2="-541.39" y2="-196.07" stroke="#000" stroke-width="1.8"/>
<line x1="-345.99" y1="-178.9" x2="-340.21" y2="-175.91" stroke="#000" stroke-width="1.6"/>
<line x1="-516.98" y1="-267.31" x2="-511.47" y2="-264.47" stroke="#000" stroke-width="1.6"/>
<line x1="-319.93" y1="-222.16" x2="-317.88" y2="-220.73" stroke="#000" stroke-width="1.8"/>
<line x1="-475.18" y1="-329.96" x2="-472.96" y2="-328.42" stroke="#000" stroke-width="1.8"/>
<line x1="-288.5" y1="-261.68" x2="-286.65" y2="-260" stroke="#000" stroke-width="1.8"/>
<line x1="-428.49" y1="-388.66" x2="-426.49" y2="-386.84" stroke="#000" stroke-width="1.8"/>
<line x1="-252.22" y1="-296.81" x2="-250.6" y2="-294.9" stroke="#000" stroke-width="1.8"/>
<line x1="-374.61" y1="-440.83" x2="-372.86" y2="-438.77" stroke="#000" stroke-width="1.8"/>
<line x1="-211.7" y1="-326.94" x2="-210.34" y2="-324.85" stroke="#000" stroke-width="1.8"/>
<line x1="-314.43" y1="-485.59" x2="-312.96" y2="-483.32" stroke="#000" stroke-width="1.8"/>
<line x1="-167.62" y1="-351.59" x2="-164.83" y2="-345.72" stroke="#000" stroke-width="1.6"/>
<line x1="-250.47" y1="-525.35" x2="-247.8" y2="-519.75" stroke="#000" stroke-width="1.6"/>
<line x1="-120.73" y1="-370.32" x2="-119.95" y2="-367.94" stroke="#000" stroke-width="1.8"/>
<line x1="-179.31" y1="-550.01" x2="-178.47" y2="-547.44" stroke="#000" stroke-width="1.8"/>
<line x1="-71.8" y1="-382.82" x2="-71.34" y2="-380.37" stroke="#000" stroke-width="1.8"/>
<line x1="-106.65" y1="-568.59" x2="-106.15" y2="-565.93" stroke="#000" stroke-width="1.8"/>
<line x1="-21.67" y1="-388.9" x2="-21.53" y2="-386.4" stroke="#000" stroke-width="1.8"/>
<line x1="-32.19" y1="-577.6" x2="-32.04" y2="-574.91" stroke="#000" stroke-width="1.8"/>
</g>
<g transform="translate(776.47,220.48) rotate(26.6)" fill="none" stroke="#ffba00" stroke-width="5.8" stroke-linejoin="round" stroke-linecap="butt">
<path d="M-28.8,-109.7L-28.8,-111.2L-10.4,-111.2M-4.4,-111.2L16.6,-111.2M22.6,-111.2L28.8,-111.2L28.8,-97.2M28.8,-88.4L28.8,-68.2M28.8,-60.7L28.8,-40.5M28.8,-33.0L28.8,-12.8M28.8,-5.3L28.8,14.9M28.8,22.4L28.8,42.6M28.8,50.1L28.8,70.3M28.8,77.8L28.8,98.0M28.8,105.5L28.8,111.2L14.3,111.2M7.3,111.2L-12.7,111.2M-19.5,111.2L-28.8,111.2L-28.8,93M-28.8,-102.1L-28.8,-81.8M-28.8,-74.3L-28.8,-54.0M-28.8,-46.5L-28.8,-26.2M-28.8,-18.7L-28.8,1.6M-28.8,9.1L-28.8,29.4M-28.8,36.9L-28.8,57.2M-28.8,64.7L-28.8,85.0"/>
</g>
<text transform="translate(751,380.6) scale(1,1.047)" font-size="22.7" fill="#000">500 kbp</text>
<text transform="translate(849.6,566.6) scale(1,1.047)" font-size="22.7" fill="#000">1000 kbp</text>
<text transform="translate(842.4,790) scale(1,1.047)" font-size="22.7" fill="#000">1500 kbp</text>
<text transform="translate(716,961.2) scale(1,1.047)" font-size="22.7" fill="#000">2000 kbp</text>
<text transform="translate(500.4,1011) scale(1,1.047)" font-size="22.7" fill="#000">2500 kbp</text>
<text transform="translate(305.8,918) scale(1,1.047)" font-size="22.7" fill="#000">3000 kbp</text>
<text transform="translate(224,722) scale(1,1.047)" font-size="22.7" fill="#000">3500 kbp</text>
<text transform="translate(245.4,501.1) scale(1,1.047)" font-size="22.7" fill="#000">4000 kbp</text>
<text transform="translate(388.4,344.6) scale(1,1.047)" font-size="22.7" fill="#000">4500 kbp</text>
<text transform="translate(583,656.0) scale(1,1.024)" font-size="29.65" text-anchor="middle" fill="#000">S.Dublin CT_02021853</text>
<text transform="translate(583,699.3) scale(1,1.024)" font-size="29.65" text-anchor="middle" fill="#000">4842908 bp</text>
<text transform="translate(1245,22) scale(1,1.063)" font-size="22.2" fill="#000">SD1_blood</text>
<rect x="1246.3" y="38.5" width="21" height="20.6" fill="#b21ce3"/>
<text transform="translate(1277.5,55.8) scale(1,1.055)" font-size="16.6" fill="#000">100% identity</text>
<rect x="1246.3" y="70.3" width="21" height="20.6" fill="#cc8ee0"/>
<text transform="translate(1277.5,87.6) scale(1,1.055)" font-size="16.6" fill="#000">70% identity</text>
<rect x="1246.3" y="102.1" width="21" height="20.6" fill="#dedede"/>
<text transform="translate(1277.5,119.4) scale(1,1.055)" font-size="16.6" fill="#000">50% identity</text>
<text transform="translate(1245,159.72) scale(1,1.063)" font-size="22.2" fill="#000">SD3_faeces</text>
<rect x="1246.3" y="176.22" width="21" height="20.6" fill="#b21ce3"/>
<text transform="translate(1277.5,193.52) scale(1,1.055)" font-size="16.6" fill="#000">100% identity</text>
<rect x="1246.3" y="208.02" width="21" height="20.6" fill="#cc8ee0"/>
<text transform="translate(1277.5,225.32) scale(1,1.055)" font-size="16.6" fill="#000">70% identity</text>
<rect x="1246.3" y="239.82" width="21" height="20.6" fill="#dedede"/>
<text transform="translate(1277.5,257.12) scale(1,1.055)" font-size="16.6" fill="#000">50% identity</text>
<text transform="translate(1245,297.44) scale(1,1.063)" font-size="22.2" fill="#000">S.<tspan dx="1.4">Choleraesuis</tspan></text>
<rect x="1246.3" y="313.94" width="21" height="20.6" fill="#e07ae0"/>
<text transform="translate(1277.5,331.24) scale(1,1.055)" font-size="16.6" fill="#000">100% identity</text>
<rect x="1246.3" y="345.74" width="21" height="20.6" fill="#e0b4e0"/>
<text transform="translate(1277.5,363.04) scale(1,1.055)" font-size="16.6" fill="#000">70% identity</text>
<rect x="1246.3" y="377.54" width="21" height="20.6" fill="#dedede"/>
<text transform="translate(1277.5,394.84) scale(1,1.055)" font-size="16.6" fill="#000">50% identity</text>
<text transform="translate(1245,435.16) scale(1,1.063)" font-size="22.2" fill="#000">S.<tspan dx="1.4">Typhimurium</tspan></text>
<rect x="1246.3" y="451.66" width="21" height="20.6" fill="#aee0e0"/>
<text transform="translate(1277.5,468.96) scale(1,1.055)" font-size="16.6" fill="#000">100% identity</text>
<rect x="1246.3" y="483.46" width="21" height="20.6" fill="#c8e0e0"/>
<text transform="translate(1277.5,500.76) scale(1,1.055)" font-size="16.6" fill="#000">70% identity</text>
<rect x="1246.3" y="515.26" width="21" height="20.6" fill="#dedede"/>
<text transform="translate(1277.5,532.56) scale(1,1.055)" font-size="16.6" fill="#000">50% identity</text>
<text transform="translate(1245,572.88) scale(1,1.063)" font-size="22.2" fill="#000">S.<tspan dx="1.4">Paratyphi</tspan></text>
<rect x="1246.3" y="589.38" width="21" height="20.6" fill="#e0b022"/>
<text transform="translate(1277.5,606.68) scale(1,1.055)" font-size="16.6" fill="#000">100% identity</text>
<rect x="1246.3" y="621.18" width="21" height="20.6" fill="#e0c890"/>
<text transform="translate(1277.5,638.48) scale(1,1.055)" font-size="16.6" fill="#000">70% identity</text>
<rect x="1246.3" y="652.98" width="21" height="20.6" fill="#dedede"/>
<text transform="translate(1277.5,670.28) scale(1,1.055)" font-size="16.6" fill="#000">50% identity</text>
<text transform="translate(1245,710.6) scale(1,1.063)" font-size="22.2" fill="#000">S.<tspan dx="1.4">Typhi</tspan></text>
<rect x="1246.3" y="727.1" width="21" height="20.6" fill="#e02222"/>
<text transform="translate(1277.5,744.4) scale(1,1.055)" font-size="16.6" fill="#000">100% identity</text>
<rect x="1246.3" y="758.9" width="21" height="20.6" fill="#e09090"/>
<text transform="translate(1277.5,776.2) scale(1,1.055)" font-size="16.6" fill="#000">70% identity</text>
<rect x="1246.3" y="790.7" width="21" height="20.6" fill="#dedede"/>
<text transform="translate(1277.5,808) scale(1,1.055)" font-size="16.6" fill="#000">50% identity</text>
<text transform="translate(1245,848.32) scale(1,1.063)" font-size="22.2" fill="#000">S.<tspan dx="1.4">Enteritidis</tspan></text>
<rect x="1246.3" y="864.82" width="21" height="20.6" fill="#22e022"/>
<text transform="translate(1277.5,882.12) scale(1,1.055)" font-size="16.6" fill="#000">100% identity</text>
<rect x="1246.3" y="896.62" width="21" height="20.6" fill="#90e090"/>
<text transform="translate(1277.5,913.92) scale(1,1.055)" font-size="16.6" fill="#000">70% identity</text>
<rect x="1246.3" y="928.42" width="21" height="20.6" fill="#dedede"/>
<text transform="translate(1277.5,945.72) scale(1,1.055)" font-size="16.6" fill="#000">50% identity</text>
<text transform="translate(1245,986.04) scale(1,1.063)" font-size="22.2" fill="#000">SPI-6 T6SS</text>
<rect x="1246.3" y="1002.54" width="21" height="20.6" fill="#1e44e0"/>
<text transform="translate(1277.5,1019.84) scale(1,1.055)" font-size="16.6" fill="#000">100% identity</text>
<rect x="1246.3" y="1034.34" width="21" height="20.6" fill="#8a9ee0"/>
<text transform="translate(1277.5,1051.64) scale(1,1.055)" font-size="16.6" fill="#000">70% identity</text>
<rect x="1246.3" y="1066.14" width="21" height="20.6" fill="#dedede"/>
<text transform="translate(1277.5,1083.44) scale(1,1.055)" font-size="16.6" fill="#000">50% identity</text>
</svg></body></html>
